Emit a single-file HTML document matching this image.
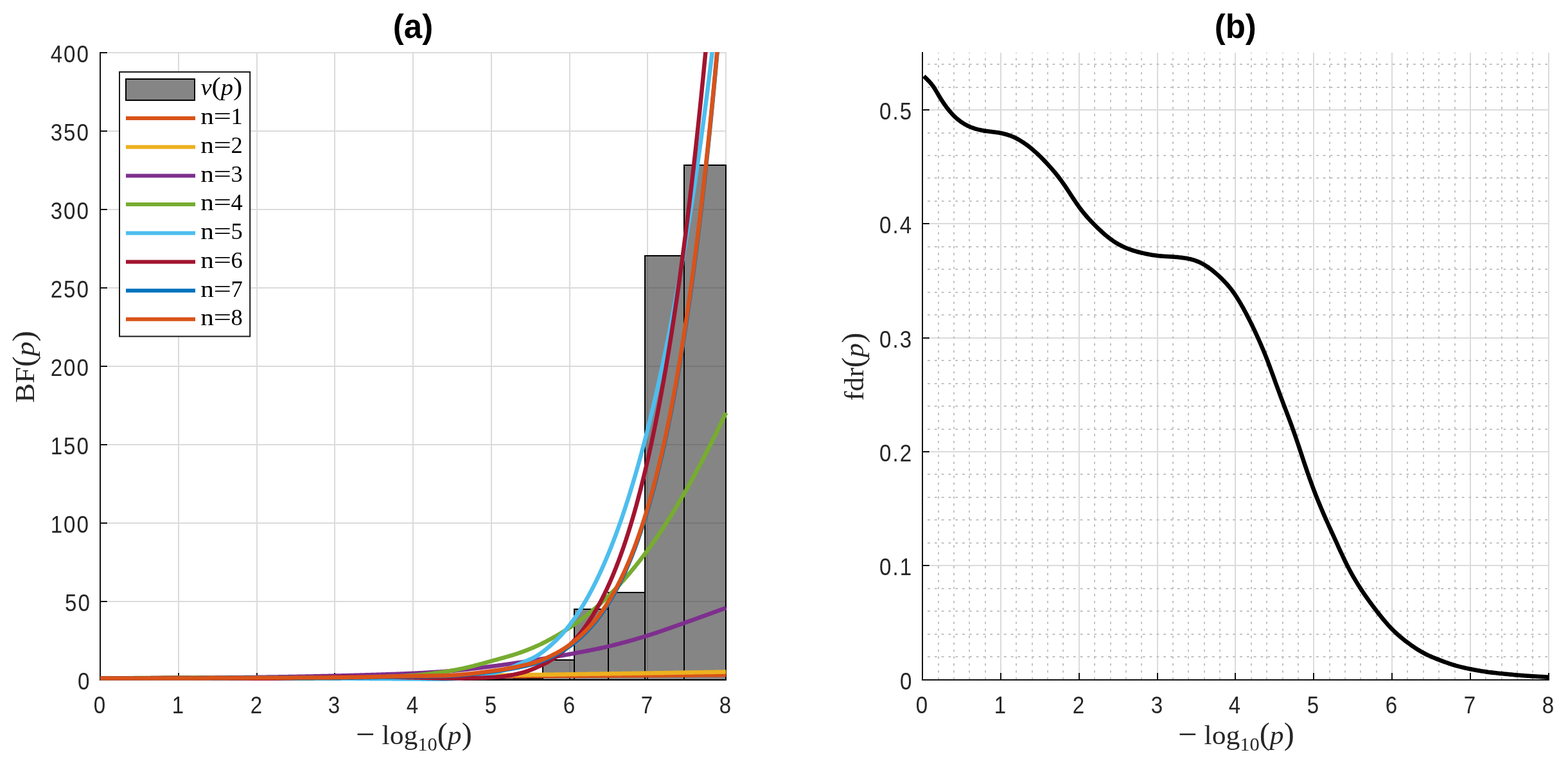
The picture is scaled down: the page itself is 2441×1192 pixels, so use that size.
<!DOCTYPE html>
<html lang="en">
<head>
<meta charset="utf-8">
<title>BF(p) and fdr(p) versus -log10(p)</title>
<style>
html,body{margin:0;padding:0;background:#fff;}
body{width:2441px;height:1192px;overflow:hidden;}
svg{display:block;}
text{white-space:pre;}
</style>
</head>
<body>
<svg width="2441" height="1192" viewBox="0 0 2441 1192">
<defs>
<clipPath id="lclip"><rect x="150" y="81" width="990" height="982"/></clipPath>
</defs>
<rect width="2441" height="1192" fill="#fff"/>
<g id="panel-a">
<path d="M278 82V1046M400 82V1046M521 82V1046M643 82V1046M765 82V1046M887 82V1046M1008 82V1046M1130 82V1046M168 936H1131M168 814H1131M168 692H1131M168 570H1131M168 448H1131M168 326H1131M168 204H1131M168 82H1131" stroke="#dbdbdb" stroke-width="2" fill="none"/>
<path d="M156 81V1059M155 1058H1131M278 1058v-11M400 1058v-11M521 1058v-11M643 1058v-11M765 1058v-11M887 1058v-11M1008 1058v-11M1130 1058v-11M156 936h11M156 814h11M156 692h11M156 570h11M156 448h11M156 326h11M156 204h11M156 82h11" stroke="#121212" stroke-width="2" fill="none"/>
<g fill="#333" fill-opacity="0.6" stroke="none">
<rect x="759" y="1056.6" width="41" height="1.4"/>
<rect x="800" y="1055.8" width="45" height="2.2"/>
<rect x="845" y="1027" width="49" height="31"/>
<rect x="894" y="948" width="53" height="110"/>
<rect x="947" y="922" width="57" height="136"/>
<rect x="1004" y="398" width="61" height="660"/>
<rect x="1065" y="257" width="65" height="801"/>
</g>
<g fill="none" stroke="#000" stroke-width="2">
<rect x="759" y="1056.6" width="41" height="1.4"/>
<rect x="800" y="1055.8" width="45" height="2.2"/>
<rect x="845" y="1027" width="49" height="31"/>
<rect x="894" y="948" width="53" height="110"/>
<rect x="947" y="922" width="57" height="136"/>
<rect x="1004" y="398" width="61" height="660"/>
<rect x="1065" y="257" width="65" height="801"/>
</g>
<g clip-path="url(#lclip)" fill="none" stroke-width="6.5" stroke-linejoin="round">
<path d="M156.2 1055.56L157.28 1055.56L158.37 1055.55L159.45 1055.55L160.53 1055.54L161.62 1055.54L162.7 1055.53L163.78 1055.53L164.87 1055.52L165.95 1055.52L167.03 1055.51L168.12 1055.51L169.2 1055.5L170.28 1055.5L171.37 1055.49L172.45 1055.49L173.53 1055.48L174.62 1055.48L175.7 1055.47L176.79 1055.47L177.87 1055.46L178.95 1055.46L180.04 1055.45L181.12 1055.45L182.2 1055.44L183.29 1055.44L184.37 1055.43L185.45 1055.43L186.54 1055.42L187.62 1055.42L188.7 1055.41L189.79 1055.41L190.87 1055.4L191.95 1055.39L193.04 1055.39L194.12 1055.38L195.2 1055.38L196.29 1055.37L197.37 1055.37L198.45 1055.36L199.54 1055.36L200.62 1055.35L201.7 1055.35L202.79 1055.34L203.87 1055.34L204.95 1055.33L206.04 1055.33L207.12 1055.32L208.2 1055.32L209.29 1055.31L210.37 1055.31L211.45 1055.3L212.54 1055.3L213.62 1055.29L214.71 1055.29L215.79 1055.28L216.87 1055.28L217.96 1055.27L219.04 1055.27L220.12 1055.26L221.21 1055.26L222.29 1055.25L223.37 1055.24L224.46 1055.24L225.54 1055.23L226.62 1055.23L227.71 1055.22L228.79 1055.22L229.87 1055.21L230.96 1055.21L232.04 1055.2L233.12 1055.2L234.21 1055.19L235.29 1055.19L236.37 1055.18L237.46 1055.18L238.54 1055.17L239.62 1055.17L240.71 1055.16L241.79 1055.15L242.87 1055.15L243.96 1055.14L245.04 1055.14L246.12 1055.13L247.21 1055.13L248.29 1055.12L249.37 1055.12L250.46 1055.11L251.54 1055.11L252.62 1055.1L253.71 1055.1L254.79 1055.09L255.88 1055.09L256.96 1055.08L258.04 1055.07L259.13 1055.07L260.21 1055.06L261.29 1055.06L262.38 1055.05L263.46 1055.05L264.54 1055.04L265.63 1055.04L266.71 1055.03L267.79 1055.03L268.88 1055.02L269.96 1055.01L271.04 1055.01L272.13 1055L273.21 1055L274.29 1054.99L275.38 1054.99L276.46 1054.98L277.54 1054.98L278.63 1054.97L279.71 1054.97L280.79 1054.96L281.88 1054.95L282.96 1054.95L284.04 1054.94L285.13 1054.94L286.21 1054.93L287.29 1054.93L288.38 1054.92L289.46 1054.92L290.54 1054.91L291.63 1054.9L292.71 1054.9L293.8 1054.89L294.88 1054.89L295.96 1054.88L297.05 1054.88L298.13 1054.87L299.21 1054.87L300.3 1054.86L301.38 1054.85L302.46 1054.85L303.55 1054.84L304.63 1054.84L305.71 1054.83L306.8 1054.83L307.88 1054.82L308.96 1054.82L310.05 1054.81L311.13 1054.8L312.21 1054.8L313.3 1054.79L314.38 1054.79L315.46 1054.78L316.55 1054.78L317.63 1054.77L318.71 1054.77L319.8 1054.76L320.88 1054.75L321.96 1054.75L323.05 1054.74L324.13 1054.74L325.21 1054.73L326.3 1054.73L327.38 1054.72L328.46 1054.72L329.55 1054.71L330.63 1054.7L331.72 1054.7L332.8 1054.69L333.88 1054.69L334.97 1054.68L336.05 1054.68L337.13 1054.67L338.22 1054.66L339.3 1054.66L340.38 1054.65L341.47 1054.65L342.55 1054.64L343.63 1054.64L344.72 1054.63L345.8 1054.62L346.88 1054.62L347.97 1054.61L349.05 1054.61L350.13 1054.6L351.22 1054.6L352.3 1054.59L353.38 1054.58L354.47 1054.58L355.55 1054.57L356.63 1054.57L357.72 1054.56L358.8 1054.56L359.88 1054.55L360.97 1054.54L362.05 1054.54L363.13 1054.53L364.22 1054.53L365.3 1054.52L366.38 1054.52L367.47 1054.51L368.55 1054.5L369.63 1054.5L370.72 1054.49L371.8 1054.49L372.89 1054.48L373.97 1054.48L375.05 1054.47L376.14 1054.46L377.22 1054.46L378.3 1054.45L379.39 1054.45L380.47 1054.44L381.55 1054.44L382.64 1054.43L383.72 1054.42L384.8 1054.42L385.89 1054.41L386.97 1054.41L388.05 1054.4L389.14 1054.4L390.22 1054.39L391.3 1054.38L392.39 1054.38L393.47 1054.37L394.55 1054.37L395.64 1054.36L396.72 1054.36L397.8 1054.35L398.89 1054.34L399.97 1054.34L401.05 1054.33L402.14 1054.33L403.22 1054.32L404.3 1054.32L405.39 1054.31L406.47 1054.3L407.55 1054.3L408.64 1054.29L409.72 1054.29L410.81 1054.28L411.89 1054.28L412.97 1054.27L414.06 1054.26L415.14 1054.26L416.22 1054.25L417.31 1054.25L418.39 1054.24L419.47 1054.23L420.56 1054.23L421.64 1054.22L422.72 1054.22L423.81 1054.21L424.89 1054.21L425.97 1054.2L427.06 1054.19L428.14 1054.19L429.22 1054.18L430.31 1054.18L431.39 1054.17L432.47 1054.16L433.56 1054.16L434.64 1054.15L435.72 1054.15L436.81 1054.14L437.89 1054.13L438.97 1054.13L440.06 1054.12L441.14 1054.12L442.22 1054.11L443.31 1054.1L444.39 1054.1L445.47 1054.09L446.56 1054.09L447.64 1054.08L448.73 1054.08L449.81 1054.07L450.89 1054.06L451.98 1054.06L453.06 1054.05L454.14 1054.05L455.23 1054.04L456.31 1054.03L457.39 1054.03L458.48 1054.02L459.56 1054.02L460.64 1054.01L461.73 1054L462.81 1054L463.89 1053.99L464.98 1053.99L466.06 1053.98L467.14 1053.97L468.23 1053.97L469.31 1053.96L470.39 1053.96L471.48 1053.95L472.56 1053.94L473.64 1053.94L474.73 1053.93L475.81 1053.93L476.89 1053.92L477.98 1053.91L479.06 1053.91L480.14 1053.9L481.23 1053.9L482.31 1053.89L483.39 1053.88L484.48 1053.88L485.56 1053.87L486.64 1053.87L487.73 1053.86L488.81 1053.85L489.9 1053.85L490.98 1053.84L492.06 1053.83L493.15 1053.83L494.23 1053.82L495.31 1053.82L496.4 1053.81L497.48 1053.8L498.56 1053.8L499.65 1053.79L500.73 1053.79L501.81 1053.78L502.9 1053.77L503.98 1053.77L505.06 1053.76L506.15 1053.76L507.23 1053.75L508.31 1053.74L509.4 1053.74L510.48 1053.73L511.56 1053.73L512.65 1053.72L513.73 1053.71L514.81 1053.71L515.9 1053.7L516.98 1053.7L518.06 1053.69L519.15 1053.68L520.23 1053.68L521.31 1053.67L522.4 1053.66L523.48 1053.66L524.56 1053.65L525.65 1053.65L526.73 1053.64L527.82 1053.63L528.9 1053.63L529.98 1053.62L531.07 1053.62L532.15 1053.61L533.23 1053.6L534.32 1053.6L535.4 1053.59L536.48 1053.59L537.57 1053.58L538.65 1053.57L539.73 1053.57L540.82 1053.56L541.9 1053.56L542.98 1053.55L544.07 1053.54L545.15 1053.54L546.23 1053.53L547.32 1053.52L548.4 1053.52L549.48 1053.51L550.57 1053.51L551.65 1053.5L552.73 1053.49L553.82 1053.49L554.9 1053.48L555.98 1053.48L557.07 1053.47L558.15 1053.46L559.23 1053.46L560.32 1053.45L561.4 1053.45L562.48 1053.44L563.57 1053.43L564.65 1053.43L565.74 1053.42L566.82 1053.42L567.9 1053.41L568.99 1053.4L570.07 1053.4L571.15 1053.39L572.24 1053.39L573.32 1053.38L574.4 1053.37L575.49 1053.37L576.57 1053.36L577.65 1053.36L578.74 1053.35L579.82 1053.34L580.9 1053.34L581.99 1053.33L583.07 1053.32L584.15 1053.32L585.24 1053.31L586.32 1053.31L587.4 1053.3L588.49 1053.29L589.57 1053.29L590.65 1053.28L591.74 1053.28L592.82 1053.27L593.9 1053.27L594.99 1053.26L596.07 1053.25L597.15 1053.25L598.24 1053.24L599.32 1053.24L600.4 1053.23L601.49 1053.22L602.57 1053.22L603.65 1053.21L604.74 1053.21L605.82 1053.2L606.91 1053.19L607.99 1053.19L609.07 1053.18L610.16 1053.18L611.24 1053.17L612.32 1053.16L613.41 1053.16L614.49 1053.15L615.57 1053.15L616.66 1053.14L617.74 1053.13L618.82 1053.13L619.91 1053.12L620.99 1053.12L622.07 1053.11L623.16 1053.11L624.24 1053.1L625.32 1053.09L626.41 1053.09L627.49 1053.08L628.57 1053.08L629.66 1053.07L630.74 1053.06L631.82 1053.06L632.91 1053.05L633.99 1053.05L635.07 1053.04L636.16 1053.04L637.24 1053.03L638.32 1053.02L639.41 1053.02L640.49 1053.01L641.57 1053.01L642.66 1053L643.74 1053L644.83 1052.99L645.91 1052.98L646.99 1052.98L648.08 1052.97L649.16 1052.97L650.24 1052.96L651.33 1052.96L652.41 1052.95L653.49 1052.94L654.58 1052.94L655.66 1052.93L656.74 1052.93L657.83 1052.92L658.91 1052.92L659.99 1052.91L661.08 1052.9L662.16 1052.9L663.24 1052.89L664.33 1052.89L665.41 1052.88L666.49 1052.88L667.58 1052.87L668.66 1052.87L669.74 1052.86L670.83 1052.85L671.91 1052.85L672.99 1052.84L674.08 1052.84L675.16 1052.83L676.24 1052.83L677.33 1052.82L678.41 1052.82L679.49 1052.81L680.58 1052.81L681.66 1052.8L682.75 1052.79L683.83 1052.79L684.91 1052.78L686 1052.78L687.08 1052.77L688.16 1052.77L689.25 1052.76L690.33 1052.76L691.41 1052.75L692.5 1052.75L693.58 1052.74L694.66 1052.74L695.75 1052.73L696.83 1052.72L697.91 1052.72L699 1052.71L700.08 1052.71L701.16 1052.7L702.25 1052.7L703.33 1052.69L704.41 1052.69L705.5 1052.68L706.58 1052.68L707.66 1052.67L708.75 1052.67L709.83 1052.66L710.91 1052.66L712 1052.65L713.08 1052.64L714.16 1052.64L715.25 1052.63L716.33 1052.63L717.41 1052.62L718.5 1052.62L719.58 1052.61L720.66 1052.61L721.75 1052.6L722.83 1052.6L723.92 1052.59L725 1052.59L726.08 1052.58L727.17 1052.58L728.25 1052.57L729.33 1052.57L730.42 1052.56L731.5 1052.56L732.58 1052.55L733.67 1052.55L734.75 1052.54L735.83 1052.53L736.92 1052.53L738 1052.52L739.08 1052.52L740.17 1052.51L741.25 1052.51L742.33 1052.5L743.42 1052.5L744.5 1052.49L745.58 1052.49L746.67 1052.48L747.75 1052.48L748.83 1052.47L749.92 1052.47L751 1052.46L752.08 1052.46L753.17 1052.45L754.25 1052.45L755.33 1052.44L756.42 1052.44L757.5 1052.43L758.58 1052.43L759.67 1052.42L760.75 1052.41L761.84 1052.41L762.92 1052.4L764 1052.4L765.09 1052.39L766.17 1052.39L767.25 1052.38L768.34 1052.38L769.42 1052.37L770.5 1052.37L771.59 1052.36L772.67 1052.36L773.75 1052.35L774.84 1052.35L775.92 1052.34L777 1052.34L778.09 1052.33L779.17 1052.33L780.25 1052.32L781.34 1052.31L782.42 1052.31L783.5 1052.3L784.59 1052.3L785.67 1052.29L786.75 1052.29L787.84 1052.28L788.92 1052.28L790 1052.27L791.09 1052.27L792.17 1052.26L793.25 1052.26L794.34 1052.25L795.42 1052.25L796.5 1052.24L797.59 1052.23L798.67 1052.23L799.76 1052.22L800.84 1052.22L801.92 1052.21L803.01 1052.21L804.09 1052.2L805.17 1052.2L806.26 1052.19L807.34 1052.19L808.42 1052.18L809.51 1052.18L810.59 1052.17L811.67 1052.16L812.76 1052.16L813.84 1052.15L814.92 1052.15L816.01 1052.14L817.09 1052.14L818.17 1052.13L819.26 1052.13L820.34 1052.12L821.42 1052.11L822.51 1052.11L823.59 1052.1L824.67 1052.1L825.76 1052.09L826.84 1052.09L827.92 1052.08L829.01 1052.08L830.09 1052.07L831.17 1052.06L832.26 1052.06L833.34 1052.05L834.42 1052.05L835.51 1052.04L836.59 1052.04L837.67 1052.03L838.76 1052.02L839.84 1052.02L840.93 1052.01L842.01 1052.01L843.09 1052L844.18 1052L845.26 1051.99L846.34 1051.98L847.43 1051.98L848.51 1051.97L849.59 1051.97L850.68 1051.96L851.76 1051.96L852.84 1051.95L853.93 1051.94L855.01 1051.94L856.09 1051.93L857.18 1051.93L858.26 1051.92L859.34 1051.91L860.43 1051.91L861.51 1051.9L862.59 1051.9L863.68 1051.89L864.76 1051.89L865.84 1051.88L866.93 1051.87L868.01 1051.87L869.09 1051.86L870.18 1051.86L871.26 1051.85L872.34 1051.84L873.43 1051.84L874.51 1051.83L875.59 1051.83L876.68 1051.82L877.76 1051.81L878.85 1051.81L879.93 1051.8L881.01 1051.8L882.1 1051.79L883.18 1051.79L884.26 1051.78L885.35 1051.77L886.43 1051.77L887.51 1051.76L888.6 1051.76L889.68 1051.75L890.76 1051.74L891.85 1051.74L892.93 1051.73L894.01 1051.73L895.1 1051.72L896.18 1051.71L897.26 1051.71L898.35 1051.7L899.43 1051.7L900.51 1051.69L901.6 1051.68L902.68 1051.68L903.76 1051.67L904.85 1051.67L905.93 1051.66L907.01 1051.65L908.1 1051.65L909.18 1051.64L910.26 1051.64L911.35 1051.63L912.43 1051.62L913.51 1051.62L914.6 1051.61L915.68 1051.6L916.77 1051.6L917.85 1051.59L918.93 1051.59L920.02 1051.58L921.1 1051.57L922.18 1051.57L923.27 1051.56L924.35 1051.56L925.43 1051.55L926.52 1051.54L927.6 1051.54L928.68 1051.53L929.77 1051.53L930.85 1051.52L931.93 1051.51L933.02 1051.51L934.1 1051.5L935.18 1051.49L936.27 1051.49L937.35 1051.48L938.43 1051.48L939.52 1051.47L940.6 1051.46L941.68 1051.46L942.77 1051.45L943.85 1051.45L944.93 1051.44L946.02 1051.43L947.1 1051.43L948.18 1051.42L949.27 1051.41L950.35 1051.41L951.43 1051.4L952.52 1051.4L953.6 1051.39L954.68 1051.38L955.77 1051.38L956.85 1051.37L957.94 1051.36L959.02 1051.36L960.1 1051.35L961.19 1051.35L962.27 1051.34L963.35 1051.33L964.44 1051.33L965.52 1051.32L966.6 1051.31L967.69 1051.31L968.77 1051.3L969.85 1051.3L970.94 1051.29L972.02 1051.28L973.1 1051.28L974.19 1051.27L975.27 1051.26L976.35 1051.26L977.44 1051.25L978.52 1051.25L979.6 1051.24L980.69 1051.23L981.77 1051.23L982.85 1051.22L983.94 1051.21L985.02 1051.21L986.1 1051.2L987.19 1051.19L988.27 1051.19L989.35 1051.18L990.44 1051.18L991.52 1051.17L992.6 1051.16L993.69 1051.16L994.77 1051.15L995.86 1051.14L996.94 1051.14L998.02 1051.13L999.11 1051.12L1000.19 1051.12L1001.27 1051.11L1002.36 1051.1L1003.44 1051.1L1004.52 1051.09L1005.61 1051.09L1006.69 1051.08L1007.77 1051.07L1008.86 1051.07L1009.94 1051.06L1011.02 1051.05L1012.11 1051.05L1013.19 1051.04L1014.27 1051.03L1015.36 1051.03L1016.44 1051.02L1017.52 1051.01L1018.61 1051.01L1019.69 1051L1020.77 1050.99L1021.86 1050.99L1022.94 1050.98L1024.02 1050.98L1025.11 1050.97L1026.19 1050.96L1027.27 1050.96L1028.36 1050.95L1029.44 1050.94L1030.52 1050.94L1031.61 1050.93L1032.69 1050.92L1033.78 1050.92L1034.86 1050.91L1035.94 1050.9L1037.03 1050.9L1038.11 1050.89L1039.19 1050.88L1040.28 1050.88L1041.36 1050.87L1042.44 1050.86L1043.53 1050.86L1044.61 1050.85L1045.69 1050.84L1046.78 1050.84L1047.86 1050.83L1048.94 1050.82L1050.03 1050.82L1051.11 1050.81L1052.19 1050.8L1053.28 1050.8L1054.36 1050.79L1055.44 1050.78L1056.53 1050.78L1057.61 1050.77L1058.69 1050.76L1059.78 1050.76L1060.86 1050.75L1061.94 1050.74L1063.03 1050.74L1064.11 1050.73L1065.19 1050.72L1066.28 1050.72L1067.36 1050.71L1068.44 1050.7L1069.53 1050.7L1070.61 1050.69L1071.69 1050.68L1072.78 1050.68L1073.86 1050.67L1074.95 1050.66L1076.03 1050.66L1077.11 1050.65L1078.2 1050.64L1079.28 1050.64L1080.36 1050.63L1081.45 1050.62L1082.53 1050.62L1083.61 1050.61L1084.7 1050.6L1085.78 1050.6L1086.86 1050.59L1087.95 1050.58L1089.03 1050.58L1090.11 1050.57L1091.2 1050.56L1092.28 1050.56L1093.36 1050.55L1094.45 1050.54L1095.53 1050.53L1096.61 1050.53L1097.7 1050.52L1098.78 1050.51L1099.86 1050.51L1100.95 1050.5L1102.03 1050.49L1103.11 1050.49L1104.2 1050.48L1105.28 1050.47L1106.36 1050.47L1107.45 1050.46L1108.53 1050.45L1109.61 1050.45L1110.7 1050.44L1111.78 1050.43L1112.87 1050.42L1113.95 1050.42L1115.03 1050.41L1116.12 1050.4L1117.2 1050.4L1118.28 1050.39L1119.37 1050.38L1120.45 1050.38L1121.53 1050.37L1122.62 1050.36L1123.7 1050.36L1124.78 1050.35L1125.87 1050.34L1126.95 1050.33L1128.03 1050.33L1129.12 1050.32L1130.2 1050.31" stroke="#D95319"/>
<path d="M156.2 1055.56L157.28 1055.56L158.37 1055.55L159.45 1055.55L160.53 1055.54L161.62 1055.54L162.7 1055.53L163.78 1055.53L164.87 1055.53L165.95 1055.52L167.03 1055.52L168.12 1055.51L169.2 1055.51L170.28 1055.5L171.37 1055.5L172.45 1055.49L173.53 1055.49L174.62 1055.49L175.7 1055.48L176.79 1055.48L177.87 1055.47L178.95 1055.47L180.04 1055.46L181.12 1055.46L182.2 1055.45L183.29 1055.45L184.37 1055.45L185.45 1055.44L186.54 1055.44L187.62 1055.43L188.7 1055.43L189.79 1055.42L190.87 1055.42L191.95 1055.41L193.04 1055.41L194.12 1055.4L195.2 1055.4L196.29 1055.4L197.37 1055.39L198.45 1055.39L199.54 1055.38L200.62 1055.38L201.7 1055.37L202.79 1055.37L203.87 1055.36L204.95 1055.36L206.04 1055.35L207.12 1055.35L208.2 1055.34L209.29 1055.34L210.37 1055.33L211.45 1055.33L212.54 1055.33L213.62 1055.32L214.71 1055.32L215.79 1055.31L216.87 1055.31L217.96 1055.3L219.04 1055.3L220.12 1055.29L221.21 1055.29L222.29 1055.28L223.37 1055.28L224.46 1055.27L225.54 1055.27L226.62 1055.26L227.71 1055.26L228.79 1055.25L229.87 1055.25L230.96 1055.24L232.04 1055.24L233.12 1055.23L234.21 1055.23L235.29 1055.22L236.37 1055.22L237.46 1055.21L238.54 1055.21L239.62 1055.2L240.71 1055.2L241.79 1055.19L242.87 1055.19L243.96 1055.18L245.04 1055.18L246.12 1055.17L247.21 1055.17L248.29 1055.16L249.37 1055.16L250.46 1055.15L251.54 1055.15L252.62 1055.14L253.71 1055.14L254.79 1055.13L255.88 1055.13L256.96 1055.12L258.04 1055.12L259.13 1055.11L260.21 1055.11L261.29 1055.1L262.38 1055.1L263.46 1055.09L264.54 1055.09L265.63 1055.08L266.71 1055.07L267.79 1055.07L268.88 1055.06L269.96 1055.06L271.04 1055.05L272.13 1055.05L273.21 1055.04L274.29 1055.04L275.38 1055.03L276.46 1055.03L277.54 1055.02L278.63 1055.02L279.71 1055.01L280.79 1055.01L281.88 1055L282.96 1054.99L284.04 1054.99L285.13 1054.98L286.21 1054.98L287.29 1054.97L288.38 1054.97L289.46 1054.96L290.54 1054.96L291.63 1054.95L292.71 1054.95L293.8 1054.94L294.88 1054.93L295.96 1054.93L297.05 1054.92L298.13 1054.92L299.21 1054.91L300.3 1054.91L301.38 1054.9L302.46 1054.9L303.55 1054.89L304.63 1054.88L305.71 1054.88L306.8 1054.87L307.88 1054.87L308.96 1054.86L310.05 1054.86L311.13 1054.85L312.21 1054.84L313.3 1054.84L314.38 1054.83L315.46 1054.83L316.55 1054.82L317.63 1054.82L318.71 1054.81L319.8 1054.8L320.88 1054.8L321.96 1054.79L323.05 1054.79L324.13 1054.78L325.21 1054.77L326.3 1054.77L327.38 1054.76L328.46 1054.76L329.55 1054.75L330.63 1054.74L331.72 1054.74L332.8 1054.73L333.88 1054.73L334.97 1054.72L336.05 1054.71L337.13 1054.71L338.22 1054.7L339.3 1054.7L340.38 1054.69L341.47 1054.68L342.55 1054.68L343.63 1054.67L344.72 1054.67L345.8 1054.66L346.88 1054.65L347.97 1054.65L349.05 1054.64L350.13 1054.64L351.22 1054.63L352.3 1054.62L353.38 1054.62L354.47 1054.61L355.55 1054.6L356.63 1054.6L357.72 1054.59L358.8 1054.59L359.88 1054.58L360.97 1054.57L362.05 1054.57L363.13 1054.56L364.22 1054.55L365.3 1054.55L366.38 1054.54L367.47 1054.54L368.55 1054.53L369.63 1054.52L370.72 1054.52L371.8 1054.51L372.89 1054.5L373.97 1054.5L375.05 1054.49L376.14 1054.48L377.22 1054.48L378.3 1054.47L379.39 1054.46L380.47 1054.46L381.55 1054.45L382.64 1054.45L383.72 1054.44L384.8 1054.43L385.89 1054.43L386.97 1054.42L388.05 1054.41L389.14 1054.41L390.22 1054.4L391.3 1054.39L392.39 1054.39L393.47 1054.38L394.55 1054.37L395.64 1054.37L396.72 1054.36L397.8 1054.35L398.89 1054.35L399.97 1054.34L401.05 1054.33L402.14 1054.32L403.22 1054.32L404.3 1054.31L405.39 1054.3L406.47 1054.3L407.55 1054.29L408.64 1054.28L409.72 1054.28L410.81 1054.27L411.89 1054.26L412.97 1054.26L414.06 1054.25L415.14 1054.24L416.22 1054.23L417.31 1054.23L418.39 1054.22L419.47 1054.21L420.56 1054.21L421.64 1054.2L422.72 1054.19L423.81 1054.19L424.89 1054.18L425.97 1054.17L427.06 1054.16L428.14 1054.16L429.22 1054.15L430.31 1054.14L431.39 1054.14L432.47 1054.13L433.56 1054.12L434.64 1054.11L435.72 1054.11L436.81 1054.1L437.89 1054.09L438.97 1054.08L440.06 1054.08L441.14 1054.07L442.22 1054.06L443.31 1054.06L444.39 1054.05L445.47 1054.04L446.56 1054.03L447.64 1054.03L448.73 1054.02L449.81 1054.01L450.89 1054L451.98 1054L453.06 1053.99L454.14 1053.98L455.23 1053.97L456.31 1053.97L457.39 1053.96L458.48 1053.95L459.56 1053.94L460.64 1053.94L461.73 1053.93L462.81 1053.92L463.89 1053.91L464.98 1053.9L466.06 1053.9L467.14 1053.89L468.23 1053.88L469.31 1053.87L470.39 1053.87L471.48 1053.86L472.56 1053.85L473.64 1053.84L474.73 1053.83L475.81 1053.83L476.89 1053.82L477.98 1053.81L479.06 1053.8L480.14 1053.8L481.23 1053.79L482.31 1053.78L483.39 1053.77L484.48 1053.76L485.56 1053.76L486.64 1053.75L487.73 1053.74L488.81 1053.73L489.9 1053.72L490.98 1053.72L492.06 1053.71L493.15 1053.7L494.23 1053.69L495.31 1053.68L496.4 1053.67L497.48 1053.67L498.56 1053.66L499.65 1053.65L500.73 1053.64L501.81 1053.63L502.9 1053.62L503.98 1053.62L505.06 1053.61L506.15 1053.6L507.23 1053.59L508.31 1053.58L509.4 1053.57L510.48 1053.57L511.56 1053.56L512.65 1053.55L513.73 1053.54L514.81 1053.53L515.9 1053.52L516.98 1053.52L518.06 1053.51L519.15 1053.5L520.23 1053.49L521.31 1053.48L522.4 1053.47L523.48 1053.46L524.56 1053.46L525.65 1053.45L526.73 1053.44L527.82 1053.43L528.9 1053.42L529.98 1053.41L531.07 1053.4L532.15 1053.39L533.23 1053.39L534.32 1053.38L535.4 1053.37L536.48 1053.36L537.57 1053.35L538.65 1053.34L539.73 1053.33L540.82 1053.32L541.9 1053.31L542.98 1053.31L544.07 1053.3L545.15 1053.29L546.23 1053.28L547.32 1053.27L548.4 1053.26L549.48 1053.25L550.57 1053.24L551.65 1053.23L552.73 1053.22L553.82 1053.22L554.9 1053.21L555.98 1053.2L557.07 1053.19L558.15 1053.18L559.23 1053.17L560.32 1053.16L561.4 1053.15L562.48 1053.14L563.57 1053.13L564.65 1053.12L565.74 1053.11L566.82 1053.1L567.9 1053.09L568.99 1053.08L570.07 1053.08L571.15 1053.07L572.24 1053.06L573.32 1053.05L574.4 1053.04L575.49 1053.03L576.57 1053.02L577.65 1053.01L578.74 1053L579.82 1052.99L580.9 1052.98L581.99 1052.97L583.07 1052.96L584.15 1052.95L585.24 1052.94L586.32 1052.93L587.4 1052.92L588.49 1052.91L589.57 1052.9L590.65 1052.89L591.74 1052.88L592.82 1052.87L593.9 1052.86L594.99 1052.85L596.07 1052.84L597.15 1052.83L598.24 1052.82L599.32 1052.81L600.4 1052.8L601.49 1052.79L602.57 1052.78L603.65 1052.77L604.74 1052.76L605.82 1052.75L606.91 1052.74L607.99 1052.73L609.07 1052.72L610.16 1052.71L611.24 1052.7L612.32 1052.69L613.41 1052.68L614.49 1052.67L615.57 1052.66L616.66 1052.65L617.74 1052.64L618.82 1052.63L619.91 1052.62L620.99 1052.61L622.07 1052.6L623.16 1052.59L624.24 1052.58L625.32 1052.57L626.41 1052.55L627.49 1052.54L628.57 1052.53L629.66 1052.52L630.74 1052.51L631.82 1052.5L632.91 1052.49L633.99 1052.48L635.07 1052.47L636.16 1052.46L637.24 1052.45L638.32 1052.44L639.41 1052.43L640.49 1052.42L641.57 1052.4L642.66 1052.39L643.74 1052.38L644.83 1052.37L645.91 1052.36L646.99 1052.35L648.08 1052.34L649.16 1052.33L650.24 1052.32L651.33 1052.3L652.41 1052.29L653.49 1052.28L654.58 1052.27L655.66 1052.26L656.74 1052.25L657.83 1052.24L658.91 1052.23L659.99 1052.21L661.08 1052.2L662.16 1052.19L663.24 1052.18L664.33 1052.17L665.41 1052.16L666.49 1052.14L667.58 1052.13L668.66 1052.12L669.74 1052.11L670.83 1052.1L671.91 1052.09L672.99 1052.07L674.08 1052.06L675.16 1052.05L676.24 1052.04L677.33 1052.03L678.41 1052.01L679.49 1052L680.58 1051.99L681.66 1051.98L682.75 1051.96L683.83 1051.95L684.91 1051.94L686 1051.93L687.08 1051.92L688.16 1051.9L689.25 1051.89L690.33 1051.88L691.41 1051.87L692.5 1051.85L693.58 1051.84L694.66 1051.83L695.75 1051.82L696.83 1051.8L697.91 1051.79L699 1051.78L700.08 1051.76L701.16 1051.75L702.25 1051.74L703.33 1051.73L704.41 1051.71L705.5 1051.7L706.58 1051.69L707.66 1051.67L708.75 1051.66L709.83 1051.65L710.91 1051.64L712 1051.62L713.08 1051.61L714.16 1051.6L715.25 1051.58L716.33 1051.57L717.41 1051.56L718.5 1051.54L719.58 1051.53L720.66 1051.52L721.75 1051.5L722.83 1051.49L723.92 1051.48L725 1051.46L726.08 1051.45L727.17 1051.44L728.25 1051.42L729.33 1051.41L730.42 1051.4L731.5 1051.38L732.58 1051.37L733.67 1051.36L734.75 1051.34L735.83 1051.33L736.92 1051.31L738 1051.3L739.08 1051.29L740.17 1051.27L741.25 1051.26L742.33 1051.25L743.42 1051.23L744.5 1051.22L745.58 1051.2L746.67 1051.19L747.75 1051.18L748.83 1051.16L749.92 1051.15L751 1051.13L752.08 1051.12L753.17 1051.11L754.25 1051.09L755.33 1051.08L756.42 1051.06L757.5 1051.05L758.58 1051.04L759.67 1051.02L760.75 1051.01L761.84 1050.99L762.92 1050.98L764 1050.96L765.09 1050.95L766.17 1050.94L767.25 1050.92L768.34 1050.91L769.42 1050.89L770.5 1050.88L771.59 1050.86L772.67 1050.85L773.75 1050.84L774.84 1050.82L775.92 1050.81L777 1050.79L778.09 1050.78L779.17 1050.76L780.25 1050.75L781.34 1050.73L782.42 1050.72L783.5 1050.7L784.59 1050.69L785.67 1050.68L786.75 1050.66L787.84 1050.65L788.92 1050.63L790 1050.62L791.09 1050.6L792.17 1050.59L793.25 1050.57L794.34 1050.56L795.42 1050.54L796.5 1050.53L797.59 1050.51L798.67 1050.5L799.76 1050.49L800.84 1050.47L801.92 1050.46L803.01 1050.44L804.09 1050.43L805.17 1050.41L806.26 1050.4L807.34 1050.38L808.42 1050.37L809.51 1050.35L810.59 1050.34L811.67 1050.32L812.76 1050.31L813.84 1050.29L814.92 1050.28L816.01 1050.26L817.09 1050.25L818.17 1050.23L819.26 1050.22L820.34 1050.21L821.42 1050.19L822.51 1050.18L823.59 1050.16L824.67 1050.15L825.76 1050.13L826.84 1050.12L827.92 1050.1L829.01 1050.09L830.09 1050.07L831.17 1050.06L832.26 1050.04L833.34 1050.03L834.42 1050.01L835.51 1050L836.59 1049.98L837.67 1049.97L838.76 1049.95L839.84 1049.94L840.93 1049.92L842.01 1049.91L843.09 1049.9L844.18 1049.88L845.26 1049.87L846.34 1049.85L847.43 1049.84L848.51 1049.82L849.59 1049.81L850.68 1049.79L851.76 1049.78L852.84 1049.76L853.93 1049.75L855.01 1049.73L856.09 1049.72L857.18 1049.7L858.26 1049.69L859.34 1049.67L860.43 1049.66L861.51 1049.64L862.59 1049.63L863.68 1049.61L864.76 1049.6L865.84 1049.58L866.93 1049.57L868.01 1049.55L869.09 1049.54L870.18 1049.52L871.26 1049.51L872.34 1049.49L873.43 1049.48L874.51 1049.46L875.59 1049.45L876.68 1049.43L877.76 1049.42L878.85 1049.4L879.93 1049.39L881.01 1049.37L882.1 1049.36L883.18 1049.34L884.26 1049.33L885.35 1049.31L886.43 1049.3L887.51 1049.28L888.6 1049.27L889.68 1049.25L890.76 1049.24L891.85 1049.22L892.93 1049.21L894.01 1049.19L895.1 1049.18L896.18 1049.16L897.26 1049.14L898.35 1049.13L899.43 1049.11L900.51 1049.1L901.6 1049.08L902.68 1049.07L903.76 1049.05L904.85 1049.04L905.93 1049.02L907.01 1049.01L908.1 1048.99L909.18 1048.98L910.26 1048.96L911.35 1048.95L912.43 1048.93L913.51 1048.91L914.6 1048.9L915.68 1048.88L916.77 1048.87L917.85 1048.85L918.93 1048.84L920.02 1048.82L921.1 1048.81L922.18 1048.79L923.27 1048.78L924.35 1048.76L925.43 1048.74L926.52 1048.73L927.6 1048.71L928.68 1048.7L929.77 1048.68L930.85 1048.67L931.93 1048.65L933.02 1048.63L934.1 1048.62L935.18 1048.6L936.27 1048.59L937.35 1048.57L938.43 1048.56L939.52 1048.54L940.6 1048.52L941.68 1048.51L942.77 1048.49L943.85 1048.48L944.93 1048.46L946.02 1048.45L947.1 1048.43L948.18 1048.41L949.27 1048.4L950.35 1048.38L951.43 1048.37L952.52 1048.35L953.6 1048.33L954.68 1048.32L955.77 1048.3L956.85 1048.29L957.94 1048.27L959.02 1048.25L960.1 1048.24L961.19 1048.22L962.27 1048.21L963.35 1048.19L964.44 1048.17L965.52 1048.16L966.6 1048.14L967.69 1048.13L968.77 1048.11L969.85 1048.09L970.94 1048.08L972.02 1048.06L973.1 1048.05L974.19 1048.03L975.27 1048.01L976.35 1048L977.44 1047.98L978.52 1047.96L979.6 1047.95L980.69 1047.93L981.77 1047.92L982.85 1047.9L983.94 1047.88L985.02 1047.87L986.1 1047.85L987.19 1047.83L988.27 1047.82L989.35 1047.8L990.44 1047.78L991.52 1047.77L992.6 1047.75L993.69 1047.73L994.77 1047.72L995.86 1047.7L996.94 1047.68L998.02 1047.67L999.11 1047.65L1000.19 1047.64L1001.27 1047.62L1002.36 1047.6L1003.44 1047.59L1004.52 1047.57L1005.61 1047.55L1006.69 1047.54L1007.77 1047.52L1008.86 1047.5L1009.94 1047.48L1011.02 1047.47L1012.11 1047.45L1013.19 1047.43L1014.27 1047.42L1015.36 1047.4L1016.44 1047.38L1017.52 1047.37L1018.61 1047.35L1019.69 1047.33L1020.77 1047.32L1021.86 1047.3L1022.94 1047.28L1024.02 1047.27L1025.11 1047.25L1026.19 1047.23L1027.27 1047.22L1028.36 1047.2L1029.44 1047.18L1030.52 1047.16L1031.61 1047.15L1032.69 1047.13L1033.78 1047.11L1034.86 1047.1L1035.94 1047.08L1037.03 1047.06L1038.11 1047.05L1039.19 1047.03L1040.28 1047.01L1041.36 1046.99L1042.44 1046.98L1043.53 1046.96L1044.61 1046.94L1045.69 1046.93L1046.78 1046.91L1047.86 1046.89L1048.94 1046.87L1050.03 1046.86L1051.11 1046.84L1052.19 1046.82L1053.28 1046.81L1054.36 1046.79L1055.44 1046.77L1056.53 1046.75L1057.61 1046.74L1058.69 1046.72L1059.78 1046.7L1060.86 1046.68L1061.94 1046.67L1063.03 1046.65L1064.11 1046.63L1065.19 1046.62L1066.28 1046.6L1067.36 1046.58L1068.44 1046.56L1069.53 1046.55L1070.61 1046.53L1071.69 1046.51L1072.78 1046.49L1073.86 1046.48L1074.95 1046.46L1076.03 1046.44L1077.11 1046.42L1078.2 1046.41L1079.28 1046.39L1080.36 1046.37L1081.45 1046.35L1082.53 1046.34L1083.61 1046.32L1084.7 1046.3L1085.78 1046.28L1086.86 1046.27L1087.95 1046.25L1089.03 1046.23L1090.11 1046.21L1091.2 1046.2L1092.28 1046.18L1093.36 1046.16L1094.45 1046.14L1095.53 1046.13L1096.61 1046.11L1097.7 1046.09L1098.78 1046.07L1099.86 1046.06L1100.95 1046.04L1102.03 1046.02L1103.11 1046L1104.2 1045.98L1105.28 1045.97L1106.36 1045.95L1107.45 1045.93L1108.53 1045.91L1109.61 1045.9L1110.7 1045.88L1111.78 1045.86L1112.87 1045.84L1113.95 1045.82L1115.03 1045.81L1116.12 1045.79L1117.2 1045.77L1118.28 1045.75L1119.37 1045.74L1120.45 1045.72L1121.53 1045.7L1122.62 1045.68L1123.7 1045.66L1124.78 1045.65L1125.87 1045.63L1126.95 1045.61L1128.03 1045.59L1129.12 1045.57L1130.2 1045.56" stroke="#EDB120"/>
<path d="M156.2 1055.56L157.28 1055.56L158.37 1055.56L159.45 1055.55L160.53 1055.55L161.62 1055.55L162.7 1055.55L163.78 1055.54L164.87 1055.54L165.95 1055.54L167.03 1055.54L168.12 1055.53L169.2 1055.53L170.28 1055.53L171.37 1055.53L172.45 1055.52L173.53 1055.52L174.62 1055.52L175.7 1055.51L176.79 1055.51L177.87 1055.51L178.95 1055.51L180.04 1055.5L181.12 1055.5L182.2 1055.5L183.29 1055.49L184.37 1055.49L185.45 1055.49L186.54 1055.48L187.62 1055.48L188.7 1055.48L189.79 1055.47L190.87 1055.47L191.95 1055.47L193.04 1055.46L194.12 1055.46L195.2 1055.45L196.29 1055.45L197.37 1055.45L198.45 1055.44L199.54 1055.44L200.62 1055.44L201.7 1055.43L202.79 1055.43L203.87 1055.42L204.95 1055.42L206.04 1055.42L207.12 1055.41L208.2 1055.41L209.29 1055.4L210.37 1055.4L211.45 1055.4L212.54 1055.39L213.62 1055.39L214.71 1055.38L215.79 1055.38L216.87 1055.37L217.96 1055.37L219.04 1055.37L220.12 1055.36L221.21 1055.36L222.29 1055.35L223.37 1055.35L224.46 1055.34L225.54 1055.34L226.62 1055.33L227.71 1055.33L228.79 1055.32L229.87 1055.32L230.96 1055.31L232.04 1055.31L233.12 1055.3L234.21 1055.3L235.29 1055.29L236.37 1055.29L237.46 1055.28L238.54 1055.28L239.62 1055.27L240.71 1055.27L241.79 1055.26L242.87 1055.26L243.96 1055.25L245.04 1055.25L246.12 1055.24L247.21 1055.24L248.29 1055.23L249.37 1055.23L250.46 1055.22L251.54 1055.22L252.62 1055.21L253.71 1055.2L254.79 1055.2L255.88 1055.19L256.96 1055.19L258.04 1055.18L259.13 1055.18L260.21 1055.17L261.29 1055.16L262.38 1055.16L263.46 1055.15L264.54 1055.15L265.63 1055.14L266.71 1055.14L267.79 1055.13L268.88 1055.12L269.96 1055.12L271.04 1055.11L272.13 1055.11L273.21 1055.1L274.29 1055.09L275.38 1055.09L276.46 1055.08L277.54 1055.07L278.63 1055.07L279.71 1055.06L280.79 1055.06L281.88 1055.05L282.96 1055.04L284.04 1055.04L285.13 1055.03L286.21 1055.02L287.29 1055.01L288.38 1055.01L289.46 1055L290.54 1054.99L291.63 1054.99L292.71 1054.98L293.8 1054.97L294.88 1054.96L295.96 1054.96L297.05 1054.95L298.13 1054.94L299.21 1054.93L300.3 1054.92L301.38 1054.91L302.46 1054.91L303.55 1054.9L304.63 1054.89L305.71 1054.88L306.8 1054.87L307.88 1054.86L308.96 1054.85L310.05 1054.85L311.13 1054.84L312.21 1054.83L313.3 1054.82L314.38 1054.81L315.46 1054.8L316.55 1054.79L317.63 1054.78L318.71 1054.77L319.8 1054.76L320.88 1054.75L321.96 1054.74L323.05 1054.73L324.13 1054.72L325.21 1054.71L326.3 1054.7L327.38 1054.69L328.46 1054.68L329.55 1054.67L330.63 1054.66L331.72 1054.65L332.8 1054.64L333.88 1054.63L334.97 1054.62L336.05 1054.61L337.13 1054.6L338.22 1054.58L339.3 1054.57L340.38 1054.56L341.47 1054.55L342.55 1054.54L343.63 1054.53L344.72 1054.52L345.8 1054.5L346.88 1054.49L347.97 1054.48L349.05 1054.47L350.13 1054.46L351.22 1054.45L352.3 1054.43L353.38 1054.42L354.47 1054.41L355.55 1054.4L356.63 1054.39L357.72 1054.37L358.8 1054.36L359.88 1054.35L360.97 1054.34L362.05 1054.32L363.13 1054.31L364.22 1054.3L365.3 1054.28L366.38 1054.27L367.47 1054.26L368.55 1054.25L369.63 1054.23L370.72 1054.22L371.8 1054.21L372.89 1054.19L373.97 1054.18L375.05 1054.17L376.14 1054.15L377.22 1054.14L378.3 1054.13L379.39 1054.11L380.47 1054.1L381.55 1054.09L382.64 1054.07L383.72 1054.06L384.8 1054.04L385.89 1054.03L386.97 1054.02L388.05 1054L389.14 1053.99L390.22 1053.98L391.3 1053.96L392.39 1053.95L393.47 1053.93L394.55 1053.92L395.64 1053.91L396.72 1053.89L397.8 1053.88L398.89 1053.86L399.97 1053.85L401.05 1053.83L402.14 1053.82L403.22 1053.81L404.3 1053.79L405.39 1053.78L406.47 1053.76L407.55 1053.75L408.64 1053.73L409.72 1053.72L410.81 1053.7L411.89 1053.69L412.97 1053.67L414.06 1053.66L415.14 1053.64L416.22 1053.62L417.31 1053.61L418.39 1053.59L419.47 1053.58L420.56 1053.56L421.64 1053.55L422.72 1053.53L423.81 1053.51L424.89 1053.5L425.97 1053.48L427.06 1053.46L428.14 1053.45L429.22 1053.43L430.31 1053.41L431.39 1053.4L432.47 1053.38L433.56 1053.36L434.64 1053.34L435.72 1053.33L436.81 1053.31L437.89 1053.29L438.97 1053.28L440.06 1053.26L441.14 1053.24L442.22 1053.22L443.31 1053.2L444.39 1053.19L445.47 1053.17L446.56 1053.15L447.64 1053.13L448.73 1053.11L449.81 1053.09L450.89 1053.07L451.98 1053.06L453.06 1053.04L454.14 1053.02L455.23 1053L456.31 1052.98L457.39 1052.96L458.48 1052.94L459.56 1052.92L460.64 1052.9L461.73 1052.88L462.81 1052.86L463.89 1052.84L464.98 1052.82L466.06 1052.8L467.14 1052.78L468.23 1052.76L469.31 1052.74L470.39 1052.72L471.48 1052.7L472.56 1052.68L473.64 1052.66L474.73 1052.64L475.81 1052.62L476.89 1052.59L477.98 1052.57L479.06 1052.55L480.14 1052.53L481.23 1052.51L482.31 1052.49L483.39 1052.46L484.48 1052.44L485.56 1052.42L486.64 1052.4L487.73 1052.38L488.81 1052.35L489.9 1052.33L490.98 1052.31L492.06 1052.28L493.15 1052.26L494.23 1052.24L495.31 1052.22L496.4 1052.19L497.48 1052.17L498.56 1052.15L499.65 1052.12L500.73 1052.1L501.81 1052.07L502.9 1052.05L503.98 1052.03L505.06 1052L506.15 1051.98L507.23 1051.95L508.31 1051.93L509.4 1051.9L510.48 1051.88L511.56 1051.86L512.65 1051.83L513.73 1051.8L514.81 1051.78L515.9 1051.75L516.98 1051.73L518.06 1051.7L519.15 1051.68L520.23 1051.65L521.31 1051.63L522.4 1051.6L523.48 1051.57L524.56 1051.55L525.65 1051.52L526.73 1051.49L527.82 1051.47L528.9 1051.44L529.98 1051.41L531.07 1051.39L532.15 1051.36L533.23 1051.33L534.32 1051.31L535.4 1051.28L536.48 1051.25L537.57 1051.22L538.65 1051.2L539.73 1051.17L540.82 1051.14L541.9 1051.11L542.98 1051.08L544.07 1051.05L545.15 1051.03L546.23 1051L547.32 1050.97L548.4 1050.94L549.48 1050.91L550.57 1050.88L551.65 1050.85L552.73 1050.82L553.82 1050.79L554.9 1050.76L555.98 1050.73L557.07 1050.71L558.15 1050.68L559.23 1050.65L560.32 1050.62L561.4 1050.58L562.48 1050.55L563.57 1050.52L564.65 1050.49L565.74 1050.46L566.82 1050.43L567.9 1050.4L568.99 1050.37L570.07 1050.34L571.15 1050.31L572.24 1050.28L573.32 1050.25L574.4 1050.21L575.49 1050.18L576.57 1050.15L577.65 1050.12L578.74 1050.09L579.82 1050.05L580.9 1050.02L581.99 1049.99L583.07 1049.96L584.15 1049.92L585.24 1049.89L586.32 1049.86L587.4 1049.82L588.49 1049.79L589.57 1049.76L590.65 1049.72L591.74 1049.69L592.82 1049.65L593.9 1049.62L594.99 1049.59L596.07 1049.55L597.15 1049.52L598.24 1049.48L599.32 1049.44L600.4 1049.41L601.49 1049.37L602.57 1049.34L603.65 1049.3L604.74 1049.26L605.82 1049.23L606.91 1049.19L607.99 1049.15L609.07 1049.11L610.16 1049.08L611.24 1049.04L612.32 1049L613.41 1048.96L614.49 1048.92L615.57 1048.88L616.66 1048.84L617.74 1048.8L618.82 1048.76L619.91 1048.72L620.99 1048.68L622.07 1048.64L623.16 1048.6L624.24 1048.55L625.32 1048.51L626.41 1048.47L627.49 1048.43L628.57 1048.38L629.66 1048.34L630.74 1048.29L631.82 1048.25L632.91 1048.2L633.99 1048.16L635.07 1048.11L636.16 1048.07L637.24 1048.02L638.32 1047.97L639.41 1047.92L640.49 1047.87L641.57 1047.83L642.66 1047.78L643.74 1047.73L644.83 1047.68L645.91 1047.63L646.99 1047.57L648.08 1047.52L649.16 1047.47L650.24 1047.42L651.33 1047.36L652.41 1047.31L653.49 1047.25L654.58 1047.2L655.66 1047.14L656.74 1047.09L657.83 1047.03L658.91 1046.97L659.99 1046.91L661.08 1046.85L662.16 1046.79L663.24 1046.73L664.33 1046.67L665.41 1046.61L666.49 1046.55L667.58 1046.48L668.66 1046.42L669.74 1046.36L670.83 1046.29L671.91 1046.22L672.99 1046.16L674.08 1046.09L675.16 1046.02L676.24 1045.95L677.33 1045.88L678.41 1045.81L679.49 1045.74L680.58 1045.67L681.66 1045.6L682.75 1045.52L683.83 1045.45L684.91 1045.38L686 1045.3L687.08 1045.22L688.16 1045.14L689.25 1045.06L690.33 1044.98L691.41 1044.9L692.5 1044.82L693.58 1044.74L694.66 1044.65L695.75 1044.56L696.83 1044.48L697.91 1044.39L699 1044.3L700.08 1044.21L701.16 1044.11L702.25 1044.02L703.33 1043.93L704.41 1043.83L705.5 1043.73L706.58 1043.64L707.66 1043.54L708.75 1043.44L709.83 1043.33L710.91 1043.23L712 1043.13L713.08 1043.02L714.16 1042.92L715.25 1042.81L716.33 1042.7L717.41 1042.59L718.5 1042.48L719.58 1042.37L720.66 1042.26L721.75 1042.15L722.83 1042.03L723.92 1041.92L725 1041.8L726.08 1041.68L727.17 1041.57L728.25 1041.45L729.33 1041.33L730.42 1041.21L731.5 1041.09L732.58 1040.96L733.67 1040.84L734.75 1040.72L735.83 1040.59L736.92 1040.46L738 1040.34L739.08 1040.21L740.17 1040.08L741.25 1039.95L742.33 1039.82L743.42 1039.69L744.5 1039.56L745.58 1039.43L746.67 1039.3L747.75 1039.17L748.83 1039.03L749.92 1038.9L751 1038.77L752.08 1038.63L753.17 1038.5L754.25 1038.36L755.33 1038.23L756.42 1038.09L757.5 1037.96L758.58 1037.82L759.67 1037.68L760.75 1037.55L761.84 1037.41L762.92 1037.27L764 1037.14L765.09 1037L766.17 1036.86L767.25 1036.72L768.34 1036.58L769.42 1036.44L770.5 1036.3L771.59 1036.16L772.67 1036.02L773.75 1035.88L774.84 1035.73L775.92 1035.59L777 1035.44L778.09 1035.3L779.17 1035.15L780.25 1035L781.34 1034.85L782.42 1034.7L783.5 1034.55L784.59 1034.4L785.67 1034.25L786.75 1034.1L787.84 1033.95L788.92 1033.79L790 1033.64L791.09 1033.48L792.17 1033.33L793.25 1033.17L794.34 1033.02L795.42 1032.86L796.5 1032.7L797.59 1032.54L798.67 1032.38L799.76 1032.22L800.84 1032.06L801.92 1031.9L803.01 1031.74L804.09 1031.58L805.17 1031.41L806.26 1031.25L807.34 1031.09L808.42 1030.92L809.51 1030.76L810.59 1030.59L811.67 1030.43L812.76 1030.26L813.84 1030.09L814.92 1029.93L816.01 1029.76L817.09 1029.59L818.17 1029.43L819.26 1029.26L820.34 1029.09L821.42 1028.92L822.51 1028.75L823.59 1028.58L824.67 1028.41L825.76 1028.24L826.84 1028.07L827.92 1027.9L829.01 1027.73L830.09 1027.56L831.17 1027.39L832.26 1027.22L833.34 1027.05L834.42 1026.87L835.51 1026.7L836.59 1026.53L837.67 1026.35L838.76 1026.18L839.84 1026.01L840.93 1025.83L842.01 1025.66L843.09 1025.48L844.18 1025.31L845.26 1025.13L846.34 1024.95L847.43 1024.78L848.51 1024.6L849.59 1024.42L850.68 1024.24L851.76 1024.06L852.84 1023.88L853.93 1023.7L855.01 1023.52L856.09 1023.34L857.18 1023.16L858.26 1022.98L859.34 1022.8L860.43 1022.61L861.51 1022.43L862.59 1022.25L863.68 1022.06L864.76 1021.88L865.84 1021.69L866.93 1021.5L868.01 1021.32L869.09 1021.13L870.18 1020.94L871.26 1020.75L872.34 1020.56L873.43 1020.37L874.51 1020.18L875.59 1019.99L876.68 1019.8L877.76 1019.6L878.85 1019.41L879.93 1019.22L881.01 1019.02L882.1 1018.83L883.18 1018.63L884.26 1018.43L885.35 1018.23L886.43 1018.03L887.51 1017.83L888.6 1017.63L889.68 1017.43L890.76 1017.23L891.85 1017.03L892.93 1016.83L894.01 1016.63L895.1 1016.43L896.18 1016.23L897.26 1016.03L898.35 1015.82L899.43 1015.62L900.51 1015.42L901.6 1015.22L902.68 1015.01L903.76 1014.81L904.85 1014.6L905.93 1014.4L907.01 1014.19L908.1 1013.98L909.18 1013.78L910.26 1013.57L911.35 1013.36L912.43 1013.15L913.51 1012.94L914.6 1012.73L915.68 1012.52L916.77 1012.31L917.85 1012.09L918.93 1011.88L920.02 1011.66L921.1 1011.45L922.18 1011.23L923.27 1011.01L924.35 1010.79L925.43 1010.57L926.52 1010.35L927.6 1010.13L928.68 1009.9L929.77 1009.68L930.85 1009.45L931.93 1009.22L933.02 1008.99L934.1 1008.76L935.18 1008.53L936.27 1008.29L937.35 1008.06L938.43 1007.82L939.52 1007.58L940.6 1007.34L941.68 1007.1L942.77 1006.85L943.85 1006.61L944.93 1006.36L946.02 1006.11L947.1 1005.85L948.18 1005.6L949.27 1005.34L950.35 1005.09L951.43 1004.83L952.52 1004.56L953.6 1004.3L954.68 1004.04L955.77 1003.77L956.85 1003.5L957.94 1003.23L959.02 1002.96L960.1 1002.68L961.19 1002.41L962.27 1002.13L963.35 1001.85L964.44 1001.57L965.52 1001.29L966.6 1001.01L967.69 1000.72L968.77 1000.43L969.85 1000.15L970.94 999.86L972.02 999.56L973.1 999.27L974.19 998.98L975.27 998.68L976.35 998.38L977.44 998.08L978.52 997.78L979.6 997.48L980.69 997.18L981.77 996.87L982.85 996.56L983.94 996.26L985.02 995.95L986.1 995.64L987.19 995.33L988.27 995.01L989.35 994.7L990.44 994.38L991.52 994.07L992.6 993.75L993.69 993.43L994.77 993.11L995.86 992.79L996.94 992.47L998.02 992.14L999.11 991.82L1000.19 991.49L1001.27 991.17L1002.36 990.84L1003.44 990.51L1004.52 990.18L1005.61 989.85L1006.69 989.52L1007.77 989.18L1008.86 988.84L1009.94 988.5L1011.02 988.16L1012.11 987.81L1013.19 987.47L1014.27 987.12L1015.36 986.77L1016.44 986.41L1017.52 986.06L1018.61 985.7L1019.69 985.35L1020.77 984.99L1021.86 984.63L1022.94 984.26L1024.02 983.9L1025.11 983.53L1026.19 983.16L1027.27 982.79L1028.36 982.42L1029.44 982.05L1030.52 981.68L1031.61 981.31L1032.69 980.93L1033.78 980.55L1034.86 980.18L1035.94 979.8L1037.03 979.42L1038.11 979.04L1039.19 978.66L1040.28 978.27L1041.36 977.89L1042.44 977.51L1043.53 977.12L1044.61 976.74L1045.69 976.36L1046.78 975.97L1047.86 975.59L1048.94 975.2L1050.03 974.81L1051.11 974.43L1052.19 974.04L1053.28 973.66L1054.36 973.27L1055.44 972.89L1056.53 972.5L1057.61 972.12L1058.69 971.73L1059.78 971.35L1060.86 970.97L1061.94 970.58L1063.03 970.2L1064.11 969.82L1065.19 969.44L1066.28 969.06L1067.36 968.68L1068.44 968.3L1069.53 967.91L1070.61 967.53L1071.69 967.15L1072.78 966.76L1073.86 966.38L1074.95 965.99L1076.03 965.6L1077.11 965.22L1078.2 964.83L1079.28 964.44L1080.36 964.05L1081.45 963.67L1082.53 963.28L1083.61 962.89L1084.7 962.5L1085.78 962.11L1086.86 961.72L1087.95 961.32L1089.03 960.93L1090.11 960.54L1091.2 960.15L1092.28 959.76L1093.36 959.36L1094.45 958.97L1095.53 958.58L1096.61 958.19L1097.7 957.79L1098.78 957.4L1099.86 957L1100.95 956.61L1102.03 956.22L1103.11 955.82L1104.2 955.43L1105.28 955.03L1106.36 954.64L1107.45 954.25L1108.53 953.85L1109.61 953.46L1110.7 953.06L1111.78 952.67L1112.87 952.28L1113.95 951.88L1115.03 951.49L1116.12 951.1L1117.2 950.7L1118.28 950.31L1119.37 949.92L1120.45 949.52L1121.53 949.13L1122.62 948.74L1123.7 948.35L1124.78 947.96L1125.87 947.56L1126.95 947.17L1128.03 946.78L1129.12 946.39L1130.2 946" stroke="#7E2F8E"/>
<path d="M156.2 1055.56L157.28 1055.55L158.37 1055.54L159.45 1055.53L160.53 1055.52L161.62 1055.51L162.7 1055.5L163.78 1055.49L164.87 1055.48L165.95 1055.48L167.03 1055.47L168.12 1055.46L169.2 1055.45L170.28 1055.44L171.37 1055.43L172.45 1055.42L173.53 1055.41L174.62 1055.4L175.7 1055.39L176.79 1055.38L177.87 1055.37L178.95 1055.36L180.04 1055.35L181.12 1055.34L182.2 1055.34L183.29 1055.33L184.37 1055.32L185.45 1055.31L186.54 1055.3L187.62 1055.29L188.7 1055.28L189.79 1055.27L190.87 1055.26L191.95 1055.25L193.04 1055.25L194.12 1055.24L195.2 1055.23L196.29 1055.22L197.37 1055.21L198.45 1055.2L199.54 1055.19L200.62 1055.18L201.7 1055.18L202.79 1055.17L203.87 1055.16L204.95 1055.15L206.04 1055.14L207.12 1055.13L208.2 1055.13L209.29 1055.12L210.37 1055.11L211.45 1055.1L212.54 1055.09L213.62 1055.09L214.71 1055.08L215.79 1055.07L216.87 1055.06L217.96 1055.06L219.04 1055.05L220.12 1055.04L221.21 1055.04L222.29 1055.03L223.37 1055.02L224.46 1055.01L225.54 1055.01L226.62 1055L227.71 1054.99L228.79 1054.99L229.87 1054.98L230.96 1054.97L232.04 1054.97L233.12 1054.96L234.21 1054.96L235.29 1054.95L236.37 1054.95L237.46 1054.94L238.54 1054.93L239.62 1054.93L240.71 1054.92L241.79 1054.92L242.87 1054.91L243.96 1054.91L245.04 1054.9L246.12 1054.9L247.21 1054.89L248.29 1054.89L249.37 1054.89L250.46 1054.88L251.54 1054.88L252.62 1054.87L253.71 1054.87L254.79 1054.87L255.88 1054.86L256.96 1054.86L258.04 1054.86L259.13 1054.85L260.21 1054.85L261.29 1054.85L262.38 1054.85L263.46 1054.84L264.54 1054.84L265.63 1054.84L266.71 1054.84L267.79 1054.84L268.88 1054.83L269.96 1054.83L271.04 1054.83L272.13 1054.83L273.21 1054.83L274.29 1054.83L275.38 1054.83L276.46 1054.83L277.54 1054.83L278.63 1054.83L279.71 1054.83L280.79 1054.83L281.88 1054.83L282.96 1054.83L284.04 1054.83L285.13 1054.83L286.21 1054.83L287.29 1054.83L288.38 1054.83L289.46 1054.83L290.54 1054.84L291.63 1054.84L292.71 1054.84L293.8 1054.84L294.88 1054.84L295.96 1054.84L297.05 1054.84L298.13 1054.85L299.21 1054.85L300.3 1054.85L301.38 1054.85L302.46 1054.85L303.55 1054.86L304.63 1054.86L305.71 1054.86L306.8 1054.86L307.88 1054.87L308.96 1054.87L310.05 1054.87L311.13 1054.87L312.21 1054.88L313.3 1054.88L314.38 1054.88L315.46 1054.88L316.55 1054.89L317.63 1054.89L318.71 1054.89L319.8 1054.9L320.88 1054.9L321.96 1054.9L323.05 1054.91L324.13 1054.91L325.21 1054.91L326.3 1054.92L327.38 1054.92L328.46 1054.92L329.55 1054.92L330.63 1054.93L331.72 1054.93L332.8 1054.93L333.88 1054.94L334.97 1054.94L336.05 1054.94L337.13 1054.95L338.22 1054.95L339.3 1054.95L340.38 1054.96L341.47 1054.96L342.55 1054.96L343.63 1054.97L344.72 1054.97L345.8 1054.97L346.88 1054.98L347.97 1054.98L349.05 1054.98L350.13 1054.99L351.22 1054.99L352.3 1054.99L353.38 1055L354.47 1055L355.55 1055L356.63 1055L357.72 1055.01L358.8 1055.01L359.88 1055.01L360.97 1055.02L362.05 1055.02L363.13 1055.02L364.22 1055.02L365.3 1055.03L366.38 1055.03L367.47 1055.03L368.55 1055.03L369.63 1055.04L370.72 1055.04L371.8 1055.04L372.89 1055.04L373.97 1055.04L375.05 1055.05L376.14 1055.05L377.22 1055.05L378.3 1055.05L379.39 1055.05L380.47 1055.06L381.55 1055.06L382.64 1055.06L383.72 1055.06L384.8 1055.06L385.89 1055.06L386.97 1055.06L388.05 1055.07L389.14 1055.07L390.22 1055.07L391.3 1055.07L392.39 1055.07L393.47 1055.07L394.55 1055.07L395.64 1055.07L396.72 1055.07L397.8 1055.07L398.89 1055.07L399.97 1055.07L401.05 1055.07L402.14 1055.07L403.22 1055.07L404.3 1055.07L405.39 1055.07L406.47 1055.07L407.55 1055.07L408.64 1055.07L409.72 1055.07L410.81 1055.07L411.89 1055.07L412.97 1055.07L414.06 1055.07L415.14 1055.07L416.22 1055.07L417.31 1055.07L418.39 1055.07L419.47 1055.07L420.56 1055.06L421.64 1055.06L422.72 1055.06L423.81 1055.06L424.89 1055.06L425.97 1055.06L427.06 1055.06L428.14 1055.06L429.22 1055.06L430.31 1055.06L431.39 1055.05L432.47 1055.05L433.56 1055.05L434.64 1055.05L435.72 1055.05L436.81 1055.05L437.89 1055.05L438.97 1055.05L440.06 1055.04L441.14 1055.04L442.22 1055.04L443.31 1055.04L444.39 1055.04L445.47 1055.04L446.56 1055.03L447.64 1055.03L448.73 1055.03L449.81 1055.03L450.89 1055.03L451.98 1055.03L453.06 1055.02L454.14 1055.02L455.23 1055.02L456.31 1055.02L457.39 1055.02L458.48 1055.01L459.56 1055.01L460.64 1055.01L461.73 1055.01L462.81 1055.01L463.89 1055L464.98 1055L466.06 1055L467.14 1055L468.23 1054.99L469.31 1054.99L470.39 1054.99L471.48 1054.99L472.56 1054.98L473.64 1054.98L474.73 1054.98L475.81 1054.98L476.89 1054.97L477.98 1054.97L479.06 1054.97L480.14 1054.96L481.23 1054.96L482.31 1054.96L483.39 1054.96L484.48 1054.95L485.56 1054.95L486.64 1054.95L487.73 1054.94L488.81 1054.94L489.9 1054.94L490.98 1054.93L492.06 1054.93L493.15 1054.93L494.23 1054.92L495.31 1054.92L496.4 1054.92L497.48 1054.91L498.56 1054.91L499.65 1054.91L500.73 1054.9L501.81 1054.9L502.9 1054.9L503.98 1054.89L505.06 1054.89L506.15 1054.88L507.23 1054.88L508.31 1054.88L509.4 1054.87L510.48 1054.87L511.56 1054.87L512.65 1054.86L513.73 1054.86L514.81 1054.85L515.9 1054.85L516.98 1054.85L518.06 1054.84L519.15 1054.84L520.23 1054.83L521.31 1054.83L522.4 1054.82L523.48 1054.82L524.56 1054.81L525.65 1054.81L526.73 1054.8L527.82 1054.79L528.9 1054.78L529.98 1054.77L531.07 1054.76L532.15 1054.75L533.23 1054.74L534.32 1054.73L535.4 1054.72L536.48 1054.71L537.57 1054.69L538.65 1054.68L539.73 1054.67L540.82 1054.65L541.9 1054.64L542.98 1054.62L544.07 1054.6L545.15 1054.59L546.23 1054.57L547.32 1054.55L548.4 1054.53L549.48 1054.51L550.57 1054.5L551.65 1054.48L552.73 1054.45L553.82 1054.43L554.9 1054.41L555.98 1054.39L557.07 1054.37L558.15 1054.34L559.23 1054.32L560.32 1054.3L561.4 1054.27L562.48 1054.25L563.57 1054.22L564.65 1054.2L565.74 1054.17L566.82 1054.15L567.9 1054.12L568.99 1054.09L570.07 1054.06L571.15 1054.04L572.24 1054.01L573.32 1053.98L574.4 1053.95L575.49 1053.92L576.57 1053.89L577.65 1053.86L578.74 1053.83L579.82 1053.8L580.9 1053.77L581.99 1053.74L583.07 1053.71L584.15 1053.68L585.24 1053.64L586.32 1053.61L587.4 1053.58L588.49 1053.55L589.57 1053.51L590.65 1053.48L591.74 1053.45L592.82 1053.42L593.9 1053.38L594.99 1053.35L596.07 1053.31L597.15 1053.28L598.24 1053.24L599.32 1053.21L600.4 1053.17L601.49 1053.13L602.57 1053.09L603.65 1053.05L604.74 1053.01L605.82 1052.97L606.91 1052.93L607.99 1052.88L609.07 1052.84L610.16 1052.79L611.24 1052.75L612.32 1052.7L613.41 1052.65L614.49 1052.6L615.57 1052.55L616.66 1052.5L617.74 1052.45L618.82 1052.39L619.91 1052.34L620.99 1052.28L622.07 1052.23L623.16 1052.17L624.24 1052.11L625.32 1052.05L626.41 1051.99L627.49 1051.93L628.57 1051.87L629.66 1051.8L630.74 1051.74L631.82 1051.67L632.91 1051.61L633.99 1051.54L635.07 1051.47L636.16 1051.4L637.24 1051.33L638.32 1051.26L639.41 1051.19L640.49 1051.11L641.57 1051.04L642.66 1050.96L643.74 1050.89L644.83 1050.81L645.91 1050.72L646.99 1050.64L648.08 1050.55L649.16 1050.47L650.24 1050.38L651.33 1050.28L652.41 1050.19L653.49 1050.09L654.58 1049.99L655.66 1049.89L656.74 1049.78L657.83 1049.68L658.91 1049.57L659.99 1049.46L661.08 1049.35L662.16 1049.23L663.24 1049.12L664.33 1049L665.41 1048.88L666.49 1048.75L667.58 1048.63L668.66 1048.5L669.74 1048.37L670.83 1048.24L671.91 1048.11L672.99 1047.98L674.08 1047.84L675.16 1047.7L676.24 1047.57L677.33 1047.43L678.41 1047.28L679.49 1047.14L680.58 1047L681.66 1046.85L682.75 1046.71L683.83 1046.56L684.91 1046.41L686 1046.26L687.08 1046.11L688.16 1045.96L689.25 1045.8L690.33 1045.65L691.41 1045.49L692.5 1045.32L693.58 1045.16L694.66 1044.99L695.75 1044.82L696.83 1044.64L697.91 1044.47L699 1044.29L700.08 1044.11L701.16 1043.92L702.25 1043.73L703.33 1043.54L704.41 1043.35L705.5 1043.16L706.58 1042.96L707.66 1042.76L708.75 1042.55L709.83 1042.35L710.91 1042.14L712 1041.92L713.08 1041.71L714.16 1041.49L715.25 1041.27L716.33 1041.05L717.41 1040.82L718.5 1040.59L719.58 1040.36L720.66 1040.13L721.75 1039.89L722.83 1039.65L723.92 1039.41L725 1039.16L726.08 1038.91L727.17 1038.66L728.25 1038.41L729.33 1038.16L730.42 1037.9L731.5 1037.64L732.58 1037.37L733.67 1037.11L734.75 1036.84L735.83 1036.57L736.92 1036.3L738 1036.03L739.08 1035.75L740.17 1035.47L741.25 1035.19L742.33 1034.91L743.42 1034.62L744.5 1034.34L745.58 1034.05L746.67 1033.76L747.75 1033.47L748.83 1033.18L749.92 1032.88L751 1032.59L752.08 1032.29L753.17 1031.99L754.25 1031.7L755.33 1031.4L756.42 1031.1L757.5 1030.8L758.58 1030.49L759.67 1030.19L760.75 1029.89L761.84 1029.59L762.92 1029.29L764 1028.98L765.09 1028.68L766.17 1028.38L767.25 1028.08L768.34 1027.78L769.42 1027.48L770.5 1027.18L771.59 1026.88L772.67 1026.58L773.75 1026.28L774.84 1025.99L775.92 1025.69L777 1025.39L778.09 1025.09L779.17 1024.79L780.25 1024.49L781.34 1024.19L782.42 1023.89L783.5 1023.59L784.59 1023.28L785.67 1022.98L786.75 1022.68L787.84 1022.37L788.92 1022.06L790 1021.75L791.09 1021.44L792.17 1021.13L793.25 1020.81L794.34 1020.49L795.42 1020.17L796.5 1019.85L797.59 1019.52L798.67 1019.19L799.76 1018.86L800.84 1018.52L801.92 1018.18L803.01 1017.83L804.09 1017.48L805.17 1017.13L806.26 1016.77L807.34 1016.41L808.42 1016.04L809.51 1015.66L810.59 1015.28L811.67 1014.89L812.76 1014.5L813.84 1014.1L814.92 1013.7L816.01 1013.3L817.09 1012.89L818.17 1012.47L819.26 1012.05L820.34 1011.63L821.42 1011.21L822.51 1010.78L823.59 1010.34L824.67 1009.91L825.76 1009.47L826.84 1009.02L827.92 1008.58L829.01 1008.13L830.09 1007.67L831.17 1007.21L832.26 1006.75L833.34 1006.28L834.42 1005.81L835.51 1005.33L836.59 1004.84L837.67 1004.36L838.76 1003.86L839.84 1003.36L840.93 1002.85L842.01 1002.33L843.09 1001.81L844.18 1001.28L845.26 1000.74L846.34 1000.19L847.43 999.64L848.51 999.09L849.59 998.52L850.68 997.95L851.76 997.38L852.84 996.8L853.93 996.21L855.01 995.62L856.09 995.03L857.18 994.44L858.26 993.84L859.34 993.24L860.43 992.64L861.51 992.04L862.59 991.43L863.68 990.82L864.76 990.21L865.84 989.59L866.93 988.97L868.01 988.34L869.09 987.71L870.18 987.07L871.26 986.43L872.34 985.78L873.43 985.13L874.51 984.47L875.59 983.81L876.68 983.14L877.76 982.47L878.85 981.79L879.93 981.11L881.01 980.42L882.1 979.73L883.18 979.03L884.26 978.33L885.35 977.62L886.43 976.9L887.51 976.18L888.6 975.46L889.68 974.73L890.76 973.99L891.85 973.25L892.93 972.5L894.01 971.75L895.1 970.99L896.18 970.23L897.26 969.46L898.35 968.68L899.43 967.9L900.51 967.12L901.6 966.33L902.68 965.53L903.76 964.72L904.85 963.91L905.93 963.1L907.01 962.28L908.1 961.45L909.18 960.62L910.26 959.78L911.35 958.93L912.43 958.08L913.51 957.23L914.6 956.36L915.68 955.5L916.77 954.62L917.85 953.74L918.93 952.85L920.02 951.96L921.1 951.06L922.18 950.15L923.27 949.24L924.35 948.32L925.43 947.4L926.52 946.47L927.6 945.53L928.68 944.58L929.77 943.63L930.85 942.68L931.93 941.71L933.02 940.74L934.1 939.77L935.18 938.78L936.27 937.79L937.35 936.8L938.43 935.8L939.52 934.79L940.6 933.77L941.68 932.75L942.77 931.72L943.85 930.68L944.93 929.64L946.02 928.59L947.1 927.53L948.18 926.47L949.27 925.4L950.35 924.32L951.43 923.24L952.52 922.14L953.6 921.05L954.68 919.94L955.77 918.83L956.85 917.71L957.94 916.58L959.02 915.45L960.1 914.31L961.19 913.16L962.27 912.01L963.35 910.85L964.44 909.68L965.52 908.5L966.6 907.32L967.69 906.13L968.77 904.93L969.85 903.73L970.94 902.51L972.02 901.29L973.1 900.07L974.19 898.83L975.27 897.59L976.35 896.34L977.44 895.08L978.52 893.82L979.6 892.55L980.69 891.27L981.77 889.98L982.85 888.69L983.94 887.39L985.02 886.08L986.1 884.76L987.19 883.44L988.27 882.11L989.35 880.77L990.44 879.42L991.52 878.07L992.6 876.71L993.69 875.34L994.77 873.96L995.86 872.57L996.94 871.18L998.02 869.78L999.11 868.37L1000.19 866.96L1001.27 865.54L1002.36 864.1L1003.44 862.67L1004.52 861.22L1005.61 859.77L1006.69 858.3L1007.77 856.83L1008.86 855.36L1009.94 853.87L1011.02 852.38L1012.11 850.88L1013.19 849.37L1014.27 847.85L1015.36 846.33L1016.44 844.8L1017.52 843.26L1018.61 841.71L1019.69 840.15L1020.77 838.59L1021.86 837.02L1022.94 835.44L1024.02 833.85L1025.11 832.26L1026.19 830.66L1027.27 829.04L1028.36 827.43L1029.44 825.8L1030.52 824.17L1031.61 822.53L1032.69 820.88L1033.78 819.22L1034.86 817.55L1035.94 815.88L1037.03 814.2L1038.11 812.51L1039.19 810.82L1040.28 809.11L1041.36 807.4L1042.44 805.68L1043.53 803.95L1044.61 802.22L1045.69 800.47L1046.78 798.72L1047.86 796.97L1048.94 795.2L1050.03 793.43L1051.11 791.64L1052.19 789.85L1053.28 788.06L1054.36 786.25L1055.44 784.44L1056.53 782.62L1057.61 780.79L1058.69 778.96L1059.78 777.12L1060.86 775.27L1061.94 773.41L1063.03 771.54L1064.11 769.67L1065.19 767.79L1066.28 765.9L1067.36 764.01L1068.44 762.11L1069.53 760.2L1070.61 758.28L1071.69 756.35L1072.78 754.42L1073.86 752.48L1074.95 750.54L1076.03 748.58L1077.11 746.62L1078.2 744.65L1079.28 742.68L1080.36 740.7L1081.45 738.71L1082.53 736.71L1083.61 734.71L1084.7 732.7L1085.78 730.68L1086.86 728.65L1087.95 726.62L1089.03 724.58L1090.11 722.54L1091.2 720.49L1092.28 718.43L1093.36 716.36L1094.45 714.29L1095.53 712.21L1096.61 710.13L1097.7 708.04L1098.78 705.94L1099.86 703.83L1100.95 701.72L1102.03 699.6L1103.11 697.48L1104.2 695.35L1105.28 693.21L1106.36 691.07L1107.45 688.92L1108.53 686.77L1109.61 684.6L1110.7 682.44L1111.78 680.26L1112.87 678.09L1113.95 675.9L1115.03 673.71L1116.12 671.51L1117.2 669.31L1118.28 667.1L1119.37 664.89L1120.45 662.67L1121.53 660.45L1122.62 658.22L1123.7 655.98L1124.78 653.74L1125.87 651.5L1126.95 649.25L1128.03 646.99L1129.12 644.73L1130.2 642.47" stroke="#77AC30"/>
<path d="M156.2 1055.56L157.28 1055.56L158.37 1055.56L159.45 1055.56L160.53 1055.56L161.62 1055.56L162.7 1055.56L163.78 1055.56L164.87 1055.56L165.95 1055.56L167.03 1055.56L168.12 1055.56L169.2 1055.56L170.28 1055.56L171.37 1055.56L172.45 1055.56L173.53 1055.56L174.62 1055.56L175.7 1055.56L176.79 1055.56L177.87 1055.56L178.95 1055.56L180.04 1055.56L181.12 1055.56L182.2 1055.56L183.29 1055.56L184.37 1055.56L185.45 1055.56L186.54 1055.56L187.62 1055.56L188.7 1055.56L189.79 1055.56L190.87 1055.56L191.95 1055.56L193.04 1055.56L194.12 1055.56L195.2 1055.56L196.29 1055.56L197.37 1055.56L198.45 1055.56L199.54 1055.56L200.62 1055.56L201.7 1055.56L202.79 1055.56L203.87 1055.56L204.95 1055.56L206.04 1055.56L207.12 1055.56L208.2 1055.56L209.29 1055.56L210.37 1055.56L211.45 1055.56L212.54 1055.56L213.62 1055.56L214.71 1055.56L215.79 1055.56L216.87 1055.56L217.96 1055.56L219.04 1055.56L220.12 1055.56L221.21 1055.56L222.29 1055.56L223.37 1055.56L224.46 1055.56L225.54 1055.56L226.62 1055.56L227.71 1055.56L228.79 1055.56L229.87 1055.56L230.96 1055.56L232.04 1055.56L233.12 1055.56L234.21 1055.56L235.29 1055.56L236.37 1055.56L237.46 1055.56L238.54 1055.56L239.62 1055.56L240.71 1055.56L241.79 1055.56L242.87 1055.56L243.96 1055.56L245.04 1055.56L246.12 1055.56L247.21 1055.56L248.29 1055.56L249.37 1055.56L250.46 1055.56L251.54 1055.56L252.62 1055.56L253.71 1055.56L254.79 1055.56L255.88 1055.56L256.96 1055.56L258.04 1055.56L259.13 1055.56L260.21 1055.56L261.29 1055.56L262.38 1055.56L263.46 1055.56L264.54 1055.56L265.63 1055.56L266.71 1055.56L267.79 1055.56L268.88 1055.56L269.96 1055.56L271.04 1055.56L272.13 1055.56L273.21 1055.56L274.29 1055.56L275.38 1055.56L276.46 1055.56L277.54 1055.56L278.63 1055.56L279.71 1055.56L280.79 1055.56L281.88 1055.56L282.96 1055.56L284.04 1055.56L285.13 1055.56L286.21 1055.55L287.29 1055.55L288.38 1055.55L289.46 1055.55L290.54 1055.55L291.63 1055.54L292.71 1055.54L293.8 1055.54L294.88 1055.54L295.96 1055.53L297.05 1055.53L298.13 1055.53L299.21 1055.52L300.3 1055.52L301.38 1055.52L302.46 1055.51L303.55 1055.51L304.63 1055.5L305.71 1055.5L306.8 1055.5L307.88 1055.49L308.96 1055.49L310.05 1055.48L311.13 1055.48L312.21 1055.47L313.3 1055.47L314.38 1055.46L315.46 1055.46L316.55 1055.45L317.63 1055.45L318.71 1055.44L319.8 1055.44L320.88 1055.43L321.96 1055.42L323.05 1055.42L324.13 1055.41L325.21 1055.41L326.3 1055.4L327.38 1055.39L328.46 1055.39L329.55 1055.38L330.63 1055.38L331.72 1055.37L332.8 1055.36L333.88 1055.36L334.97 1055.35L336.05 1055.34L337.13 1055.34L338.22 1055.33L339.3 1055.32L340.38 1055.32L341.47 1055.31L342.55 1055.3L343.63 1055.3L344.72 1055.29L345.8 1055.29L346.88 1055.28L347.97 1055.27L349.05 1055.27L350.13 1055.26L351.22 1055.25L352.3 1055.25L353.38 1055.24L354.47 1055.23L355.55 1055.23L356.63 1055.22L357.72 1055.22L358.8 1055.21L359.88 1055.2L360.97 1055.2L362.05 1055.19L363.13 1055.19L364.22 1055.18L365.3 1055.17L366.38 1055.17L367.47 1055.16L368.55 1055.16L369.63 1055.15L370.72 1055.15L371.8 1055.14L372.89 1055.14L373.97 1055.13L375.05 1055.13L376.14 1055.12L377.22 1055.12L378.3 1055.12L379.39 1055.11L380.47 1055.11L381.55 1055.1L382.64 1055.1L383.72 1055.1L384.8 1055.09L385.89 1055.09L386.97 1055.09L388.05 1055.09L389.14 1055.08L390.22 1055.08L391.3 1055.08L392.39 1055.08L393.47 1055.08L394.55 1055.07L395.64 1055.07L396.72 1055.07L397.8 1055.07L398.89 1055.07L399.97 1055.07L401.05 1055.07L402.14 1055.07L403.22 1055.07L404.3 1055.07L405.39 1055.07L406.47 1055.07L407.55 1055.08L408.64 1055.08L409.72 1055.08L410.81 1055.08L411.89 1055.08L412.97 1055.08L414.06 1055.08L415.14 1055.08L416.22 1055.09L417.31 1055.09L418.39 1055.09L419.47 1055.09L420.56 1055.09L421.64 1055.09L422.72 1055.1L423.81 1055.1L424.89 1055.1L425.97 1055.1L427.06 1055.11L428.14 1055.11L429.22 1055.11L430.31 1055.12L431.39 1055.12L432.47 1055.12L433.56 1055.12L434.64 1055.13L435.72 1055.13L436.81 1055.13L437.89 1055.14L438.97 1055.14L440.06 1055.15L441.14 1055.15L442.22 1055.15L443.31 1055.16L444.39 1055.16L445.47 1055.16L446.56 1055.17L447.64 1055.17L448.73 1055.18L449.81 1055.18L450.89 1055.19L451.98 1055.19L453.06 1055.19L454.14 1055.2L455.23 1055.2L456.31 1055.21L457.39 1055.21L458.48 1055.22L459.56 1055.22L460.64 1055.23L461.73 1055.23L462.81 1055.24L463.89 1055.24L464.98 1055.25L466.06 1055.25L467.14 1055.26L468.23 1055.26L469.31 1055.27L470.39 1055.27L471.48 1055.28L472.56 1055.29L473.64 1055.29L474.73 1055.3L475.81 1055.3L476.89 1055.31L477.98 1055.31L479.06 1055.32L480.14 1055.32L481.23 1055.33L482.31 1055.34L483.39 1055.34L484.48 1055.35L485.56 1055.35L486.64 1055.36L487.73 1055.37L488.81 1055.37L489.9 1055.38L490.98 1055.38L492.06 1055.39L493.15 1055.4L494.23 1055.4L495.31 1055.41L496.4 1055.41L497.48 1055.42L498.56 1055.43L499.65 1055.43L500.73 1055.44L501.81 1055.45L502.9 1055.45L503.98 1055.46L505.06 1055.46L506.15 1055.47L507.23 1055.48L508.31 1055.48L509.4 1055.49L510.48 1055.5L511.56 1055.5L512.65 1055.51L513.73 1055.51L514.81 1055.52L515.9 1055.53L516.98 1055.53L518.06 1055.54L519.15 1055.55L520.23 1055.55L521.31 1055.56L522.4 1055.57L523.48 1055.57L524.56 1055.58L525.65 1055.59L526.73 1055.6L527.82 1055.6L528.9 1055.61L529.98 1055.62L531.07 1055.63L532.15 1055.64L533.23 1055.65L534.32 1055.66L535.4 1055.67L536.48 1055.68L537.57 1055.7L538.65 1055.71L539.73 1055.72L540.82 1055.73L541.9 1055.74L542.98 1055.76L544.07 1055.77L545.15 1055.78L546.23 1055.79L547.32 1055.81L548.4 1055.82L549.48 1055.83L550.57 1055.84L551.65 1055.86L552.73 1055.87L553.82 1055.88L554.9 1055.9L555.98 1055.91L557.07 1055.92L558.15 1055.93L559.23 1055.95L560.32 1055.96L561.4 1055.97L562.48 1055.99L563.57 1056L564.65 1056.01L565.74 1056.02L566.82 1056.04L567.9 1056.05L568.99 1056.06L570.07 1056.07L571.15 1056.08L572.24 1056.1L573.32 1056.11L574.4 1056.12L575.49 1056.13L576.57 1056.14L577.65 1056.15L578.74 1056.16L579.82 1056.17L580.9 1056.18L581.99 1056.19L583.07 1056.2L584.15 1056.21L585.24 1056.22L586.32 1056.23L587.4 1056.24L588.49 1056.25L589.57 1056.26L590.65 1056.27L591.74 1056.27L592.82 1056.28L593.9 1056.29L594.99 1056.3L596.07 1056.3L597.15 1056.31L598.24 1056.32L599.32 1056.32L600.4 1056.33L601.49 1056.33L602.57 1056.34L603.65 1056.35L604.74 1056.35L605.82 1056.36L606.91 1056.36L607.99 1056.37L609.07 1056.37L610.16 1056.38L611.24 1056.38L612.32 1056.39L613.41 1056.39L614.49 1056.4L615.57 1056.4L616.66 1056.41L617.74 1056.41L618.82 1056.42L619.91 1056.42L620.99 1056.43L622.07 1056.43L623.16 1056.44L624.24 1056.44L625.32 1056.45L626.41 1056.45L627.49 1056.46L628.57 1056.46L629.66 1056.47L630.74 1056.47L631.82 1056.48L632.91 1056.48L633.99 1056.49L635.07 1056.49L636.16 1056.5L637.24 1056.51L638.32 1056.51L639.41 1056.52L640.49 1056.52L641.57 1056.53L642.66 1056.53L643.74 1056.54L644.83 1056.55L645.91 1056.55L646.99 1056.56L648.08 1056.57L649.16 1056.57L650.24 1056.58L651.33 1056.59L652.41 1056.6L653.49 1056.61L654.58 1056.61L655.66 1056.62L656.74 1056.63L657.83 1056.64L658.91 1056.65L659.99 1056.66L661.08 1056.66L662.16 1056.67L663.24 1056.68L664.33 1056.69L665.41 1056.7L666.49 1056.7L667.58 1056.71L668.66 1056.72L669.74 1056.72L670.83 1056.73L671.91 1056.74L672.99 1056.74L674.08 1056.75L675.16 1056.75L676.24 1056.76L677.33 1056.76L678.41 1056.77L679.49 1056.77L680.58 1056.77L681.66 1056.78L682.75 1056.78L683.83 1056.78L684.91 1056.78L686 1056.78L687.08 1056.78L688.16 1056.77L689.25 1056.76L690.33 1056.75L691.41 1056.74L692.5 1056.72L693.58 1056.7L694.66 1056.67L695.75 1056.65L696.83 1056.62L697.91 1056.58L699 1056.54L700.08 1056.5L701.16 1056.46L702.25 1056.42L703.33 1056.37L704.41 1056.31L705.5 1056.25L706.58 1056.19L707.66 1056.13L708.75 1056.06L709.83 1055.99L710.91 1055.92L712 1055.84L713.08 1055.76L714.16 1055.67L715.25 1055.58L716.33 1055.49L717.41 1055.4L718.5 1055.3L719.58 1055.2L720.66 1055.1L721.75 1055L722.83 1054.89L723.92 1054.78L725 1054.68L726.08 1054.57L727.17 1054.46L728.25 1054.36L729.33 1054.25L730.42 1054.14L731.5 1054.03L732.58 1053.91L733.67 1053.79L734.75 1053.66L735.83 1053.53L736.92 1053.39L738 1053.25L739.08 1053.11L740.17 1052.96L741.25 1052.8L742.33 1052.64L743.42 1052.48L744.5 1052.31L745.58 1052.13L746.67 1051.96L747.75 1051.77L748.83 1051.58L749.92 1051.39L751 1051.19L752.08 1050.98L753.17 1050.78L754.25 1050.56L755.33 1050.34L756.42 1050.12L757.5 1049.9L758.58 1049.66L759.67 1049.43L760.75 1049.19L761.84 1048.95L762.92 1048.71L764 1048.46L765.09 1048.21L766.17 1047.95L767.25 1047.69L768.34 1047.43L769.42 1047.16L770.5 1046.88L771.59 1046.59L772.67 1046.3L773.75 1046L774.84 1045.7L775.92 1045.39L777 1045.08L778.09 1044.76L779.17 1044.43L780.25 1044.09L781.34 1043.75L782.42 1043.4L783.5 1043.05L784.59 1042.69L785.67 1042.32L786.75 1041.95L787.84 1041.57L788.92 1041.19L790 1040.8L791.09 1040.4L792.17 1040L793.25 1039.59L794.34 1039.18L795.42 1038.76L796.5 1038.33L797.59 1037.9L798.67 1037.47L799.76 1037.03L800.84 1036.58L801.92 1036.14L803.01 1035.68L804.09 1035.23L805.17 1034.76L806.26 1034.3L807.34 1033.83L808.42 1033.36L809.51 1032.89L810.59 1032.41L811.67 1031.93L812.76 1031.46L813.84 1030.99L814.92 1030.52L816.01 1030.06L817.09 1029.59L818.17 1029.13L819.26 1028.67L820.34 1028.2L821.42 1027.74L822.51 1027.27L823.59 1026.8L824.67 1026.32L825.76 1025.84L826.84 1025.34L827.92 1024.83L829.01 1024.31L830.09 1023.77L831.17 1023.21L832.26 1022.63L833.34 1022.03L834.42 1021.4L835.51 1020.76L836.59 1020.09L837.67 1019.4L838.76 1018.69L839.84 1017.96L840.93 1017.21L842.01 1016.45L843.09 1015.67L844.18 1014.88L845.26 1014.07L846.34 1013.24L847.43 1012.41L848.51 1011.56L849.59 1010.69L850.68 1009.82L851.76 1008.93L852.84 1008.03L853.93 1007.12L855.01 1006.2L856.09 1005.26L857.18 1004.32L858.26 1003.36L859.34 1002.39L860.43 1001.41L861.51 1000.42L862.59 999.42L863.68 998.4L864.76 997.37L865.84 996.32L866.93 995.25L868.01 994.17L869.09 993.07L870.18 991.95L871.26 990.82L872.34 989.67L873.43 988.5L874.51 987.32L875.59 986.11L876.68 984.89L877.76 983.66L878.85 982.4L879.93 981.12L881.01 979.83L882.1 978.52L883.18 977.19L884.26 975.84L885.35 974.47L886.43 973.08L887.51 971.68L888.6 970.25L889.68 968.81L890.76 967.34L891.85 965.86L892.93 964.35L894.01 962.83L895.1 961.28L896.18 959.72L897.26 958.13L898.35 956.53L899.43 954.9L900.51 953.25L901.6 951.59L902.68 949.9L903.76 948.19L904.85 946.46L905.93 944.71L907.01 942.94L908.1 941.14L909.18 939.33L910.26 937.5L911.35 935.64L912.43 933.76L913.51 931.87L914.6 929.95L915.68 928.01L916.77 926.04L917.85 924.06L918.93 922.05L920.02 920.02L921.1 917.97L922.18 915.9L923.27 913.8L924.35 911.68L925.43 909.54L926.52 907.38L927.6 905.19L928.68 902.98L929.77 900.75L930.85 898.49L931.93 896.21L933.02 893.9L934.1 891.57L935.18 889.22L936.27 886.84L937.35 884.44L938.43 882.02L939.52 879.57L940.6 877.09L941.68 874.59L942.77 872.07L943.85 869.52L944.93 866.94L946.02 864.35L947.1 861.72L948.18 859.07L949.27 856.39L950.35 853.69L951.43 850.96L952.52 848.21L953.6 845.43L954.68 842.62L955.77 839.79L956.85 836.93L957.94 834.04L959.02 831.13L960.1 828.19L961.19 825.22L962.27 822.23L963.35 819.2L964.44 816.15L965.52 813.08L966.6 809.97L967.69 806.84L968.77 803.68L969.85 800.49L970.94 797.27L972.02 794.03L973.1 790.75L974.19 787.45L975.27 784.12L976.35 780.76L977.44 777.37L978.52 773.95L979.6 770.5L980.69 767.02L981.77 763.51L982.85 759.97L983.94 756.41L985.02 752.81L986.1 749.18L987.19 745.52L988.27 741.83L989.35 738.12L990.44 734.37L991.52 730.58L992.6 726.77L993.69 722.93L994.77 719.05L995.86 715.15L996.94 711.21L998.02 707.24L999.11 703.24L1000.19 699.2L1001.27 695.14L1002.36 691.04L1003.44 686.91L1004.52 682.74L1005.61 678.55L1006.69 674.32L1007.77 670.05L1008.86 665.75L1009.94 661.42L1011.02 657.06L1012.11 652.66L1013.19 648.22L1014.27 643.75L1015.36 639.25L1016.44 634.71L1017.52 630.14L1018.61 625.53L1019.69 620.88L1020.77 616.2L1021.86 611.48L1022.94 606.73L1024.02 601.94L1025.11 597.11L1026.19 592.24L1027.27 587.34L1028.36 582.39L1029.44 577.41L1030.52 572.4L1031.61 567.34L1032.69 562.24L1033.78 557.11L1034.86 551.93L1035.94 546.71L1037.03 541.46L1038.11 536.16L1039.19 530.82L1040.28 525.44L1041.36 520.02L1042.44 514.56L1043.53 509.05L1044.61 503.5L1045.69 497.91L1046.78 492.28L1047.86 486.6L1048.94 480.87L1050.03 475.1L1051.11 469.29L1052.19 463.43L1053.28 457.53L1054.36 451.58L1055.44 445.58L1056.53 439.53L1057.61 433.44L1058.69 427.3L1059.78 421.11L1060.86 414.87L1061.94 408.58L1063.03 402.24L1064.11 395.85L1065.19 389.41L1066.28 382.92L1067.36 376.38L1068.44 369.78L1069.53 363.13L1070.61 356.42L1071.69 349.67L1072.78 342.85L1073.86 335.98L1074.95 329.06L1076.03 322.08L1077.11 315.04L1078.2 307.94L1079.28 300.79L1080.36 293.57L1081.45 286.29L1082.53 278.96L1083.61 271.56L1084.7 264.1L1085.78 256.58L1086.86 248.99L1087.95 241.34L1089.03 233.63L1090.11 225.85L1091.2 218L1092.28 210.09L1093.36 202.1L1094.45 194.05L1095.53 185.93L1096.61 177.74L1097.7 169.47L1098.78 161.14L1099.86 152.73L1100.95 144.24L1102.03 135.68L1103.11 127.05L1104.2 118.34L1105.28 109.54L1106.36 100.67L1107.45 91.72L1108.53 82.69L1109.61 73.58L1110.7 64.38L1111.78 55.1L1112.87 45.73L1113.95 36.28L1115.03 26.73L1116.12 17.1L1117.2 7.38L1118.28 -2.43L1119.37 -12.34L1120.45 -22.34L1121.53 -32.43L1122.62 -42.63L1123.7 -52.92L1124.78 -63.31L1125.87 -73.8L1126.95 -84.39" stroke="#4DBEEE"/>
<path d="M156.2 1055.56L157.28 1055.55L158.37 1055.54L159.45 1055.53L160.53 1055.52L161.62 1055.52L162.7 1055.51L163.78 1055.5L164.87 1055.49L165.95 1055.48L167.03 1055.47L168.12 1055.47L169.2 1055.46L170.28 1055.45L171.37 1055.44L172.45 1055.43L173.53 1055.43L174.62 1055.42L175.7 1055.41L176.79 1055.4L177.87 1055.39L178.95 1055.39L180.04 1055.38L181.12 1055.37L182.2 1055.37L183.29 1055.36L184.37 1055.35L185.45 1055.35L186.54 1055.34L187.62 1055.33L188.7 1055.33L189.79 1055.32L190.87 1055.31L191.95 1055.31L193.04 1055.3L194.12 1055.29L195.2 1055.29L196.29 1055.28L197.37 1055.28L198.45 1055.27L199.54 1055.26L200.62 1055.26L201.7 1055.25L202.79 1055.25L203.87 1055.24L204.95 1055.24L206.04 1055.23L207.12 1055.23L208.2 1055.22L209.29 1055.22L210.37 1055.21L211.45 1055.21L212.54 1055.2L213.62 1055.2L214.71 1055.19L215.79 1055.19L216.87 1055.18L217.96 1055.18L219.04 1055.18L220.12 1055.17L221.21 1055.17L222.29 1055.16L223.37 1055.16L224.46 1055.16L225.54 1055.15L226.62 1055.15L227.71 1055.15L228.79 1055.14L229.87 1055.14L230.96 1055.14L232.04 1055.13L233.12 1055.13L234.21 1055.13L235.29 1055.12L236.37 1055.12L237.46 1055.12L238.54 1055.12L239.62 1055.11L240.71 1055.11L241.79 1055.11L242.87 1055.11L243.96 1055.1L245.04 1055.1L246.12 1055.1L247.21 1055.1L248.29 1055.1L249.37 1055.09L250.46 1055.09L251.54 1055.09L252.62 1055.09L253.71 1055.09L254.79 1055.09L255.88 1055.09L256.96 1055.08L258.04 1055.08L259.13 1055.08L260.21 1055.08L261.29 1055.08L262.38 1055.08L263.46 1055.08L264.54 1055.08L265.63 1055.08L266.71 1055.08L267.79 1055.07L268.88 1055.07L269.96 1055.07L271.04 1055.07L272.13 1055.07L273.21 1055.07L274.29 1055.07L275.38 1055.07L276.46 1055.07L277.54 1055.07L278.63 1055.07L279.71 1055.07L280.79 1055.07L281.88 1055.07L282.96 1055.08L284.04 1055.08L285.13 1055.08L286.21 1055.08L287.29 1055.09L288.38 1055.09L289.46 1055.09L290.54 1055.1L291.63 1055.1L292.71 1055.11L293.8 1055.11L294.88 1055.12L295.96 1055.12L297.05 1055.13L298.13 1055.13L299.21 1055.14L300.3 1055.15L301.38 1055.15L302.46 1055.16L303.55 1055.17L304.63 1055.17L305.71 1055.18L306.8 1055.19L307.88 1055.2L308.96 1055.21L310.05 1055.21L311.13 1055.22L312.21 1055.23L313.3 1055.24L314.38 1055.25L315.46 1055.26L316.55 1055.27L317.63 1055.27L318.71 1055.28L319.8 1055.29L320.88 1055.3L321.96 1055.31L323.05 1055.32L324.13 1055.33L325.21 1055.34L326.3 1055.35L327.38 1055.36L328.46 1055.37L329.55 1055.38L330.63 1055.39L331.72 1055.4L332.8 1055.41L333.88 1055.42L334.97 1055.43L336.05 1055.44L337.13 1055.45L338.22 1055.46L339.3 1055.47L340.38 1055.48L341.47 1055.49L342.55 1055.5L343.63 1055.51L344.72 1055.52L345.8 1055.53L346.88 1055.54L347.97 1055.54L349.05 1055.55L350.13 1055.56L351.22 1055.57L352.3 1055.58L353.38 1055.59L354.47 1055.6L355.55 1055.61L356.63 1055.62L357.72 1055.62L358.8 1055.63L359.88 1055.64L360.97 1055.65L362.05 1055.66L363.13 1055.66L364.22 1055.67L365.3 1055.68L366.38 1055.68L367.47 1055.69L368.55 1055.7L369.63 1055.71L370.72 1055.71L371.8 1055.72L372.89 1055.72L373.97 1055.73L375.05 1055.74L376.14 1055.74L377.22 1055.75L378.3 1055.75L379.39 1055.76L380.47 1055.76L381.55 1055.77L382.64 1055.77L383.72 1055.77L384.8 1055.78L385.89 1055.78L386.97 1055.78L388.05 1055.79L389.14 1055.79L390.22 1055.79L391.3 1055.8L392.39 1055.8L393.47 1055.8L394.55 1055.8L395.64 1055.8L396.72 1055.8L397.8 1055.8L398.89 1055.8L399.97 1055.8L401.05 1055.8L402.14 1055.8L403.22 1055.8L404.3 1055.8L405.39 1055.8L406.47 1055.79L407.55 1055.79L408.64 1055.78L409.72 1055.78L410.81 1055.77L411.89 1055.76L412.97 1055.76L414.06 1055.75L415.14 1055.74L416.22 1055.73L417.31 1055.72L418.39 1055.71L419.47 1055.7L420.56 1055.69L421.64 1055.68L422.72 1055.67L423.81 1055.65L424.89 1055.64L425.97 1055.63L427.06 1055.61L428.14 1055.6L429.22 1055.58L430.31 1055.57L431.39 1055.55L432.47 1055.53L433.56 1055.52L434.64 1055.5L435.72 1055.48L436.81 1055.46L437.89 1055.44L438.97 1055.42L440.06 1055.4L441.14 1055.38L442.22 1055.36L443.31 1055.34L444.39 1055.32L445.47 1055.3L446.56 1055.28L447.64 1055.25L448.73 1055.23L449.81 1055.21L450.89 1055.18L451.98 1055.16L453.06 1055.13L454.14 1055.11L455.23 1055.08L456.31 1055.06L457.39 1055.03L458.48 1055L459.56 1054.98L460.64 1054.95L461.73 1054.92L462.81 1054.9L463.89 1054.87L464.98 1054.84L466.06 1054.81L467.14 1054.78L468.23 1054.75L469.31 1054.73L470.39 1054.7L471.48 1054.67L472.56 1054.64L473.64 1054.61L474.73 1054.58L475.81 1054.55L476.89 1054.52L477.98 1054.49L479.06 1054.46L480.14 1054.43L481.23 1054.4L482.31 1054.37L483.39 1054.34L484.48 1054.31L485.56 1054.28L486.64 1054.26L487.73 1054.23L488.81 1054.2L489.9 1054.17L490.98 1054.14L492.06 1054.11L493.15 1054.09L494.23 1054.06L495.31 1054.03L496.4 1054.01L497.48 1053.98L498.56 1053.96L499.65 1053.93L500.73 1053.91L501.81 1053.89L502.9 1053.86L503.98 1053.84L505.06 1053.82L506.15 1053.8L507.23 1053.78L508.31 1053.76L509.4 1053.74L510.48 1053.73L511.56 1053.71L512.65 1053.69L513.73 1053.68L514.81 1053.67L515.9 1053.65L516.98 1053.64L518.06 1053.63L519.15 1053.62L520.23 1053.62L521.31 1053.61L522.4 1053.6L523.48 1053.6L524.56 1053.59L525.65 1053.59L526.73 1053.58L527.82 1053.57L528.9 1053.57L529.98 1053.56L531.07 1053.56L532.15 1053.55L533.23 1053.55L534.32 1053.54L535.4 1053.54L536.48 1053.53L537.57 1053.52L538.65 1053.52L539.73 1053.51L540.82 1053.51L541.9 1053.5L542.98 1053.5L544.07 1053.49L545.15 1053.49L546.23 1053.48L547.32 1053.48L548.4 1053.47L549.48 1053.47L550.57 1053.47L551.65 1053.46L552.73 1053.46L553.82 1053.45L554.9 1053.45L555.98 1053.44L557.07 1053.44L558.15 1053.44L559.23 1053.43L560.32 1053.43L561.4 1053.42L562.48 1053.42L563.57 1053.42L564.65 1053.41L565.74 1053.41L566.82 1053.41L567.9 1053.4L568.99 1053.4L570.07 1053.4L571.15 1053.4L572.24 1053.39L573.32 1053.39L574.4 1053.39L575.49 1053.39L576.57 1053.38L577.65 1053.38L578.74 1053.38L579.82 1053.38L580.9 1053.38L581.99 1053.37L583.07 1053.37L584.15 1053.37L585.24 1053.37L586.32 1053.37L587.4 1053.37L588.49 1053.37L589.57 1053.37L590.65 1053.36L591.74 1053.36L592.82 1053.36L593.9 1053.36L594.99 1053.36L596.07 1053.37L597.15 1053.37L598.24 1053.38L599.32 1053.38L600.4 1053.39L601.49 1053.4L602.57 1053.42L603.65 1053.43L604.74 1053.44L605.82 1053.46L606.91 1053.48L607.99 1053.5L609.07 1053.52L610.16 1053.54L611.24 1053.56L612.32 1053.58L613.41 1053.61L614.49 1053.63L615.57 1053.66L616.66 1053.68L617.74 1053.71L618.82 1053.74L619.91 1053.77L620.99 1053.79L622.07 1053.82L623.16 1053.85L624.24 1053.88L625.32 1053.91L626.41 1053.93L627.49 1053.96L628.57 1053.99L629.66 1054.02L630.74 1054.05L631.82 1054.07L632.91 1054.1L633.99 1054.13L635.07 1054.16L636.16 1054.18L637.24 1054.21L638.32 1054.23L639.41 1054.26L640.49 1054.28L641.57 1054.31L642.66 1054.33L643.74 1054.35L644.83 1054.37L645.91 1054.4L646.99 1054.42L648.08 1054.45L649.16 1054.48L650.24 1054.5L651.33 1054.53L652.41 1054.56L653.49 1054.59L654.58 1054.62L655.66 1054.65L656.74 1054.68L657.83 1054.71L658.91 1054.74L659.99 1054.77L661.08 1054.8L662.16 1054.83L663.24 1054.86L664.33 1054.89L665.41 1054.92L666.49 1054.95L667.58 1054.98L668.66 1055.01L669.74 1055.04L670.83 1055.06L671.91 1055.09L672.99 1055.12L674.08 1055.15L675.16 1055.17L676.24 1055.2L677.33 1055.22L678.41 1055.25L679.49 1055.27L680.58 1055.29L681.66 1055.32L682.75 1055.34L683.83 1055.36L684.91 1055.38L686 1055.4L687.08 1055.41L688.16 1055.43L689.25 1055.45L690.33 1055.46L691.41 1055.48L692.5 1055.49L693.58 1055.5L694.66 1055.51L695.75 1055.52L696.83 1055.53L697.91 1055.54L699 1055.55L700.08 1055.55L701.16 1055.56L702.25 1055.56L703.33 1055.56L704.41 1055.56L705.5 1055.56L706.58 1055.56L707.66 1055.55L708.75 1055.55L709.83 1055.55L710.91 1055.54L712 1055.53L713.08 1055.52L714.16 1055.52L715.25 1055.51L716.33 1055.49L717.41 1055.48L718.5 1055.47L719.58 1055.46L720.66 1055.44L721.75 1055.43L722.83 1055.41L723.92 1055.39L725 1055.37L726.08 1055.36L727.17 1055.34L728.25 1055.31L729.33 1055.29L730.42 1055.27L731.5 1055.25L732.58 1055.22L733.67 1055.2L734.75 1055.17L735.83 1055.14L736.92 1055.11L738 1055.09L739.08 1055.06L740.17 1055.03L741.25 1054.99L742.33 1054.96L743.42 1054.93L744.5 1054.89L745.58 1054.86L746.67 1054.82L747.75 1054.79L748.83 1054.75L749.92 1054.71L751 1054.67L752.08 1054.63L753.17 1054.59L754.25 1054.55L755.33 1054.51L756.42 1054.46L757.5 1054.42L758.58 1054.37L759.67 1054.33L760.75 1054.28L761.84 1054.24L762.92 1054.19L764 1054.14L765.09 1054.09L766.17 1054.04L767.25 1053.98L768.34 1053.92L769.42 1053.85L770.5 1053.78L771.59 1053.71L772.67 1053.63L773.75 1053.55L774.84 1053.46L775.92 1053.36L777 1053.26L778.09 1053.16L779.17 1053.05L780.25 1052.94L781.34 1052.82L782.42 1052.69L783.5 1052.56L784.59 1052.42L785.67 1052.28L786.75 1052.13L787.84 1051.98L788.92 1051.82L790 1051.66L791.09 1051.48L792.17 1051.31L793.25 1051.12L794.34 1050.93L795.42 1050.74L796.5 1050.54L797.59 1050.33L798.67 1050.12L799.76 1049.9L800.84 1049.67L801.92 1049.44L803.01 1049.2L804.09 1048.96L805.17 1048.72L806.26 1048.47L807.34 1048.21L808.42 1047.95L809.51 1047.69L810.59 1047.42L811.67 1047.15L812.76 1046.87L813.84 1046.58L814.92 1046.27L816.01 1045.96L817.09 1045.63L818.17 1045.29L819.26 1044.94L820.34 1044.58L821.42 1044.2L822.51 1043.82L823.59 1043.42L824.67 1043.01L825.76 1042.59L826.84 1042.16L827.92 1041.73L829.01 1041.28L830.09 1040.83L831.17 1040.38L832.26 1039.92L833.34 1039.45L834.42 1038.98L835.51 1038.5L836.59 1038.03L837.67 1037.55L838.76 1037.06L839.84 1036.58L840.93 1036.08L842.01 1035.58L843.09 1035.08L844.18 1034.56L845.26 1034.04L846.34 1033.5L847.43 1032.96L848.51 1032.4L849.59 1031.84L850.68 1031.26L851.76 1030.66L852.84 1030.06L853.93 1029.44L855.01 1028.8L856.09 1028.16L857.18 1027.5L858.26 1026.82L859.34 1026.13L860.43 1025.43L861.51 1024.72L862.59 1023.99L863.68 1023.24L864.76 1022.49L865.84 1021.72L866.93 1020.93L868.01 1020.14L869.09 1019.33L870.18 1018.5L871.26 1017.66L872.34 1016.81L873.43 1015.94L874.51 1015.06L875.59 1014.16L876.68 1013.25L877.76 1012.33L878.85 1011.38L879.93 1010.42L881.01 1009.45L882.1 1008.46L883.18 1007.45L884.26 1006.43L885.35 1005.39L886.43 1004.33L887.51 1003.26L888.6 1002.17L889.68 1001.06L890.76 999.94L891.85 998.79L892.93 997.63L894.01 996.45L895.1 995.25L896.18 994.04L897.26 992.8L898.35 991.55L899.43 990.27L900.51 988.98L901.6 987.67L902.68 986.33L903.76 984.98L904.85 983.6L905.93 982.21L907.01 980.79L908.1 979.36L909.18 977.9L910.26 976.42L911.35 974.92L912.43 973.39L913.51 971.85L914.6 970.28L915.68 968.68L916.77 967.07L917.85 965.43L918.93 963.77L920.02 962.08L921.1 960.37L922.18 958.64L923.27 956.88L924.35 955.09L925.43 953.28L926.52 951.45L927.6 949.58L928.68 947.7L929.77 945.78L930.85 943.84L931.93 941.87L933.02 939.88L934.1 937.86L935.18 935.81L936.27 933.73L937.35 931.62L938.43 929.48L939.52 927.32L940.6 925.13L941.68 922.9L942.77 920.65L943.85 918.37L944.93 916.05L946.02 913.71L947.1 911.34L948.18 908.93L949.27 906.49L950.35 904.02L951.43 901.52L952.52 898.98L953.6 896.42L954.68 893.82L955.77 891.18L956.85 888.51L957.94 885.81L959.02 883.07L960.1 880.3L961.19 877.49L962.27 874.65L963.35 871.77L964.44 868.85L965.52 865.9L966.6 862.91L967.69 859.89L968.77 856.82L969.85 853.72L970.94 850.58L972.02 847.4L973.1 844.18L974.19 840.92L975.27 837.62L976.35 834.28L977.44 830.9L978.52 827.48L979.6 824.02L980.69 820.52L981.77 816.97L982.85 813.38L983.94 809.74L985.02 806.07L986.1 802.35L987.19 798.58L988.27 794.77L989.35 790.91L990.44 787.01L991.52 783.06L992.6 779.07L993.69 775.03L994.77 770.94L995.86 766.81L996.94 762.62L998.02 758.39L999.11 754.11L1000.19 749.77L1001.27 745.39L1002.36 740.96L1003.44 736.48L1004.52 731.94L1005.61 727.36L1006.69 722.72L1007.77 718.03L1008.86 713.28L1009.94 708.49L1011.02 703.63L1012.11 698.73L1013.19 693.76L1014.27 688.75L1015.36 683.67L1016.44 678.54L1017.52 673.36L1018.61 668.11L1019.69 662.81L1020.77 657.45L1021.86 652.03L1022.94 646.55L1024.02 641.01L1025.11 635.41L1026.19 629.74L1027.27 624.02L1028.36 618.23L1029.44 612.38L1030.52 606.47L1031.61 600.5L1032.69 594.45L1033.78 588.35L1034.86 582.18L1035.94 575.94L1037.03 569.63L1038.11 563.26L1039.19 556.82L1040.28 550.31L1041.36 543.73L1042.44 537.08L1043.53 530.36L1044.61 523.57L1045.69 516.71L1046.78 509.77L1047.86 502.76L1048.94 495.68L1050.03 488.53L1051.11 481.29L1052.19 473.99L1053.28 466.6L1054.36 459.14L1055.44 451.6L1056.53 443.99L1057.61 436.29L1058.69 428.51L1059.78 420.66L1060.86 412.72L1061.94 404.7L1063.03 396.59L1064.11 388.4L1065.19 380.13L1066.28 371.77L1067.36 363.33L1068.44 354.8L1069.53 346.18L1070.61 337.47L1071.69 328.68L1072.78 319.79L1073.86 310.81L1074.95 301.75L1076.03 292.58L1077.11 283.33L1078.2 273.98L1079.28 264.53L1080.36 254.99L1081.45 245.35L1082.53 235.62L1083.61 225.78L1084.7 215.84L1085.78 205.81L1086.86 195.67L1087.95 185.43L1089.03 175.08L1090.11 164.63L1091.2 154.07L1092.28 143.41L1093.36 132.64L1094.45 121.76L1095.53 110.77L1096.61 99.67L1097.7 88.45L1098.78 77.13L1099.86 65.68L1100.95 54.13L1102.03 42.45L1103.11 30.66L1104.2 18.75L1105.28 6.71L1106.36 -5.44L1107.45 -17.72L1108.53 -30.12L1109.61 -42.64L1110.7 -55.3L1111.78 -68.08L1112.87 -80.99" stroke="#A2142F"/>
<path d="M156.2 1055.56L157.28 1055.56L158.37 1055.56L159.45 1055.56L160.53 1055.56L161.62 1055.56L162.7 1055.56L163.78 1055.56L164.87 1055.56L165.95 1055.56L167.03 1055.56L168.12 1055.56L169.2 1055.56L170.28 1055.56L171.37 1055.56L172.45 1055.56L173.53 1055.56L174.62 1055.56L175.7 1055.56L176.79 1055.56L177.87 1055.56L178.95 1055.56L180.04 1055.56L181.12 1055.56L182.2 1055.56L183.29 1055.56L184.37 1055.56L185.45 1055.56L186.54 1055.56L187.62 1055.56L188.7 1055.56L189.79 1055.56L190.87 1055.56L191.95 1055.56L193.04 1055.56L194.12 1055.56L195.2 1055.56L196.29 1055.56L197.37 1055.56L198.45 1055.56L199.54 1055.56L200.62 1055.56L201.7 1055.56L202.79 1055.56L203.87 1055.56L204.95 1055.56L206.04 1055.56L207.12 1055.56L208.2 1055.56L209.29 1055.56L210.37 1055.56L211.45 1055.56L212.54 1055.56L213.62 1055.56L214.71 1055.56L215.79 1055.56L216.87 1055.56L217.96 1055.56L219.04 1055.56L220.12 1055.56L221.21 1055.56L222.29 1055.56L223.37 1055.56L224.46 1055.56L225.54 1055.56L226.62 1055.56L227.71 1055.56L228.79 1055.56L229.87 1055.56L230.96 1055.56L232.04 1055.56L233.12 1055.56L234.21 1055.56L235.29 1055.56L236.37 1055.56L237.46 1055.56L238.54 1055.56L239.62 1055.56L240.71 1055.56L241.79 1055.56L242.87 1055.56L243.96 1055.56L245.04 1055.56L246.12 1055.56L247.21 1055.56L248.29 1055.56L249.37 1055.56L250.46 1055.56L251.54 1055.56L252.62 1055.56L253.71 1055.56L254.79 1055.56L255.88 1055.56L256.96 1055.56L258.04 1055.56L259.13 1055.56L260.21 1055.56L261.29 1055.56L262.38 1055.56L263.46 1055.56L264.54 1055.56L265.63 1055.56L266.71 1055.56L267.79 1055.56L268.88 1055.56L269.96 1055.56L271.04 1055.56L272.13 1055.56L273.21 1055.56L274.29 1055.56L275.38 1055.56L276.46 1055.56L277.54 1055.56L278.63 1055.56L279.71 1055.56L280.79 1055.56L281.88 1055.56L282.96 1055.56L284.04 1055.56L285.13 1055.55L286.21 1055.55L287.29 1055.55L288.38 1055.55L289.46 1055.54L290.54 1055.54L291.63 1055.54L292.71 1055.53L293.8 1055.53L294.88 1055.53L295.96 1055.52L297.05 1055.52L298.13 1055.51L299.21 1055.51L300.3 1055.5L301.38 1055.5L302.46 1055.49L303.55 1055.49L304.63 1055.48L305.71 1055.47L306.8 1055.47L307.88 1055.46L308.96 1055.45L310.05 1055.45L311.13 1055.44L312.21 1055.43L313.3 1055.43L314.38 1055.42L315.46 1055.41L316.55 1055.4L317.63 1055.39L318.71 1055.39L319.8 1055.38L320.88 1055.37L321.96 1055.36L323.05 1055.35L324.13 1055.34L325.21 1055.34L326.3 1055.33L327.38 1055.32L328.46 1055.31L329.55 1055.3L330.63 1055.29L331.72 1055.28L332.8 1055.27L333.88 1055.26L334.97 1055.25L336.05 1055.24L337.13 1055.23L338.22 1055.22L339.3 1055.21L340.38 1055.2L341.47 1055.19L342.55 1055.18L343.63 1055.17L344.72 1055.16L345.8 1055.15L346.88 1055.14L347.97 1055.14L349.05 1055.13L350.13 1055.12L351.22 1055.11L352.3 1055.1L353.38 1055.09L354.47 1055.08L355.55 1055.07L356.63 1055.06L357.72 1055.05L358.8 1055.04L359.88 1055.03L360.97 1055.02L362.05 1055.01L363.13 1055L364.22 1054.99L365.3 1054.99L366.38 1054.98L367.47 1054.97L368.55 1054.96L369.63 1054.95L370.72 1054.94L371.8 1054.94L372.89 1054.93L373.97 1054.92L375.05 1054.92L376.14 1054.91L377.22 1054.9L378.3 1054.9L379.39 1054.89L380.47 1054.88L381.55 1054.88L382.64 1054.87L383.72 1054.87L384.8 1054.86L385.89 1054.86L386.97 1054.85L388.05 1054.85L389.14 1054.85L390.22 1054.84L391.3 1054.84L392.39 1054.84L393.47 1054.83L394.55 1054.83L395.64 1054.83L396.72 1054.83L397.8 1054.83L398.89 1054.83L399.97 1054.83L401.05 1054.83L402.14 1054.83L403.22 1054.83L404.3 1054.83L405.39 1054.83L406.47 1054.83L407.55 1054.83L408.64 1054.83L409.72 1054.83L410.81 1054.83L411.89 1054.83L412.97 1054.83L414.06 1054.83L415.14 1054.83L416.22 1054.83L417.31 1054.83L418.39 1054.83L419.47 1054.83L420.56 1054.83L421.64 1054.83L422.72 1054.83L423.81 1054.83L424.89 1054.83L425.97 1054.83L427.06 1054.83L428.14 1054.83L429.22 1054.83L430.31 1054.83L431.39 1054.83L432.47 1054.83L433.56 1054.83L434.64 1054.83L435.72 1054.83L436.81 1054.83L437.89 1054.83L438.97 1054.83L440.06 1054.83L441.14 1054.83L442.22 1054.83L443.31 1054.83L444.39 1054.83L445.47 1054.83L446.56 1054.83L447.64 1054.83L448.73 1054.83L449.81 1054.83L450.89 1054.83L451.98 1054.83L453.06 1054.83L454.14 1054.83L455.23 1054.83L456.31 1054.83L457.39 1054.83L458.48 1054.83L459.56 1054.83L460.64 1054.83L461.73 1054.83L462.81 1054.83L463.89 1054.83L464.98 1054.83L466.06 1054.83L467.14 1054.83L468.23 1054.83L469.31 1054.83L470.39 1054.83L471.48 1054.83L472.56 1054.83L473.64 1054.83L474.73 1054.83L475.81 1054.83L476.89 1054.83L477.98 1054.83L479.06 1054.83L480.14 1054.83L481.23 1054.83L482.31 1054.83L483.39 1054.83L484.48 1054.83L485.56 1054.83L486.64 1054.83L487.73 1054.83L488.81 1054.83L489.9 1054.83L490.98 1054.83L492.06 1054.83L493.15 1054.83L494.23 1054.83L495.31 1054.83L496.4 1054.83L497.48 1054.83L498.56 1054.83L499.65 1054.83L500.73 1054.83L501.81 1054.83L502.9 1054.83L503.98 1054.83L505.06 1054.83L506.15 1054.83L507.23 1054.83L508.31 1054.83L509.4 1054.83L510.48 1054.83L511.56 1054.83L512.65 1054.83L513.73 1054.83L514.81 1054.83L515.9 1054.83L516.98 1054.83L518.06 1054.83L519.15 1054.83L520.23 1054.83L521.31 1054.83L522.4 1054.83L523.48 1054.83L524.56 1054.83L525.65 1054.82L526.73 1054.82L527.82 1054.82L528.9 1054.81L529.98 1054.81L531.07 1054.8L532.15 1054.8L533.23 1054.79L534.32 1054.79L535.4 1054.78L536.48 1054.77L537.57 1054.76L538.65 1054.75L539.73 1054.74L540.82 1054.73L541.9 1054.72L542.98 1054.71L544.07 1054.7L545.15 1054.69L546.23 1054.68L547.32 1054.67L548.4 1054.65L549.48 1054.64L550.57 1054.63L551.65 1054.61L552.73 1054.6L553.82 1054.58L554.9 1054.56L555.98 1054.55L557.07 1054.53L558.15 1054.51L559.23 1054.5L560.32 1054.48L561.4 1054.46L562.48 1054.44L563.57 1054.42L564.65 1054.4L565.74 1054.38L566.82 1054.36L567.9 1054.34L568.99 1054.32L570.07 1054.3L571.15 1054.28L572.24 1054.26L573.32 1054.23L574.4 1054.21L575.49 1054.19L576.57 1054.16L577.65 1054.14L578.74 1054.12L579.82 1054.09L580.9 1054.07L581.99 1054.04L583.07 1054.02L584.15 1053.99L585.24 1053.97L586.32 1053.94L587.4 1053.92L588.49 1053.89L589.57 1053.86L590.65 1053.84L591.74 1053.81L592.82 1053.78L593.9 1053.75L594.99 1053.73L596.07 1053.7L597.15 1053.67L598.24 1053.65L599.32 1053.62L600.4 1053.59L601.49 1053.56L602.57 1053.53L603.65 1053.51L604.74 1053.48L605.82 1053.45L606.91 1053.42L607.99 1053.39L609.07 1053.37L610.16 1053.34L611.24 1053.31L612.32 1053.28L613.41 1053.26L614.49 1053.23L615.57 1053.2L616.66 1053.18L617.74 1053.15L618.82 1053.12L619.91 1053.1L620.99 1053.07L622.07 1053.04L623.16 1053.02L624.24 1052.99L625.32 1052.97L626.41 1052.94L627.49 1052.92L628.57 1052.9L629.66 1052.87L630.74 1052.85L631.82 1052.83L632.91 1052.81L633.99 1052.79L635.07 1052.77L636.16 1052.75L637.24 1052.73L638.32 1052.71L639.41 1052.69L640.49 1052.67L641.57 1052.66L642.66 1052.64L643.74 1052.62L644.83 1052.61L645.91 1052.6L646.99 1052.58L648.08 1052.57L649.16 1052.56L650.24 1052.54L651.33 1052.53L652.41 1052.52L653.49 1052.51L654.58 1052.5L655.66 1052.49L656.74 1052.48L657.83 1052.47L658.91 1052.46L659.99 1052.45L661.08 1052.44L662.16 1052.43L663.24 1052.42L664.33 1052.41L665.41 1052.4L666.49 1052.39L667.58 1052.38L668.66 1052.37L669.74 1052.36L670.83 1052.35L671.91 1052.34L672.99 1052.33L674.08 1052.31L675.16 1052.3L676.24 1052.29L677.33 1052.28L678.41 1052.26L679.49 1052.25L680.58 1052.23L681.66 1052.21L682.75 1052.2L683.83 1052.18L684.91 1052.16L686 1052.14L687.08 1052.12L688.16 1052.09L689.25 1052.07L690.33 1052.04L691.41 1052.01L692.5 1051.98L693.58 1051.94L694.66 1051.9L695.75 1051.86L696.83 1051.82L697.91 1051.78L699 1051.73L700.08 1051.68L701.16 1051.63L702.25 1051.58L703.33 1051.52L704.41 1051.47L705.5 1051.41L706.58 1051.35L707.66 1051.28L708.75 1051.22L709.83 1051.15L710.91 1051.08L712 1051.01L713.08 1050.93L714.16 1050.86L715.25 1050.78L716.33 1050.7L717.41 1050.61L718.5 1050.53L719.58 1050.44L720.66 1050.35L721.75 1050.26L722.83 1050.17L723.92 1050.07L725 1049.97L726.08 1049.87L727.17 1049.77L728.25 1049.67L729.33 1049.56L730.42 1049.46L731.5 1049.35L732.58 1049.24L733.67 1049.12L734.75 1049.01L735.83 1048.89L736.92 1048.77L738 1048.65L739.08 1048.53L740.17 1048.41L741.25 1048.28L742.33 1048.15L743.42 1048.03L744.5 1047.9L745.58 1047.76L746.67 1047.63L747.75 1047.5L748.83 1047.37L749.92 1047.23L751 1047.09L752.08 1046.96L753.17 1046.82L754.25 1046.68L755.33 1046.54L756.42 1046.4L757.5 1046.26L758.58 1046.13L759.67 1045.99L760.75 1045.85L761.84 1045.71L762.92 1045.57L764 1045.43L765.09 1045.29L766.17 1045.16L767.25 1045.02L768.34 1044.88L769.42 1044.74L770.5 1044.59L771.59 1044.45L772.67 1044.3L773.75 1044.15L774.84 1044L775.92 1043.85L777 1043.7L778.09 1043.54L779.17 1043.39L780.25 1043.23L781.34 1043.07L782.42 1042.9L783.5 1042.74L784.59 1042.57L785.67 1042.41L786.75 1042.24L787.84 1042.06L788.92 1041.89L790 1041.71L791.09 1041.53L792.17 1041.35L793.25 1041.17L794.34 1040.98L795.42 1040.8L796.5 1040.61L797.59 1040.41L798.67 1040.22L799.76 1040.02L800.84 1039.82L801.92 1039.61L803.01 1039.41L804.09 1039.2L805.17 1038.99L806.26 1038.77L807.34 1038.55L808.42 1038.33L809.51 1038.11L810.59 1037.88L811.67 1037.65L812.76 1037.42L813.84 1037.18L814.92 1036.94L816.01 1036.7L817.09 1036.46L818.17 1036.21L819.26 1035.96L820.34 1035.7L821.42 1035.45L822.51 1035.18L823.59 1034.92L824.67 1034.65L825.76 1034.37L826.84 1034.09L827.92 1033.8L829.01 1033.5L830.09 1033.2L831.17 1032.89L832.26 1032.57L833.34 1032.24L834.42 1031.9L835.51 1031.56L836.59 1031.2L837.67 1030.84L838.76 1030.46L839.84 1030.08L840.93 1029.69L842.01 1029.29L843.09 1028.87L844.18 1028.45L845.26 1028.02L846.34 1027.59L847.43 1027.14L848.51 1026.69L849.59 1026.23L850.68 1025.76L851.76 1025.28L852.84 1024.8L853.93 1024.31L855.01 1023.82L856.09 1023.32L857.18 1022.81L858.26 1022.29L859.34 1021.77L860.43 1021.25L861.51 1020.72L862.59 1020.18L863.68 1019.63L864.76 1019.08L865.84 1018.51L866.93 1017.94L868.01 1017.36L869.09 1016.76L870.18 1016.16L871.26 1015.55L872.34 1014.93L873.43 1014.3L874.51 1013.66L875.59 1013.01L876.68 1012.35L877.76 1011.67L878.85 1010.99L879.93 1010.3L881.01 1009.59L882.1 1008.88L883.18 1008.15L884.26 1007.41L885.35 1006.66L886.43 1005.9L887.51 1005.13L888.6 1004.34L889.68 1003.54L890.76 1002.73L891.85 1001.91L892.93 1001.07L894.01 1000.23L895.1 999.37L896.18 998.49L897.26 997.6L898.35 996.7L899.43 995.79L900.51 994.86L901.6 993.91L902.68 992.96L903.76 991.99L904.85 991L905.93 990L907.01 988.98L908.1 987.95L909.18 986.9L910.26 985.84L911.35 984.77L912.43 983.67L913.51 982.56L914.6 981.44L915.68 980.3L916.77 979.14L917.85 977.96L918.93 976.77L920.02 975.56L921.1 974.34L922.18 973.09L923.27 971.83L924.35 970.55L925.43 969.26L926.52 967.94L927.6 966.61L928.68 965.25L929.77 963.88L930.85 962.49L931.93 961.08L933.02 959.65L934.1 958.19L935.18 956.72L936.27 955.23L937.35 953.71L938.43 952.18L939.52 950.62L940.6 949.04L941.68 947.44L942.77 945.82L943.85 944.17L944.93 942.5L946.02 940.81L947.1 939.1L948.18 937.36L949.27 935.59L950.35 933.81L951.43 931.99L952.52 930.15L953.6 928.29L954.68 926.4L955.77 924.49L956.85 922.55L957.94 920.58L959.02 918.58L960.1 916.56L961.19 914.51L962.27 912.43L963.35 910.33L964.44 908.19L965.52 906.03L966.6 903.84L967.69 901.61L968.77 899.36L969.85 897.08L970.94 894.76L972.02 892.42L973.1 890.04L974.19 887.63L975.27 885.19L976.35 882.72L977.44 880.21L978.52 877.67L979.6 875.1L980.69 872.49L981.77 869.85L982.85 867.17L983.94 864.45L985.02 861.7L986.1 858.92L987.19 856.1L988.27 853.24L989.35 850.34L990.44 847.4L991.52 844.43L992.6 841.42L993.69 838.36L994.77 835.27L995.86 832.14L996.94 828.97L998.02 825.75L999.11 822.5L1000.19 819.2L1001.27 815.86L1002.36 812.48L1003.44 809.05L1004.52 805.58L1005.61 802.07L1006.69 798.51L1007.77 794.9L1008.86 791.25L1009.94 787.56L1011.02 783.81L1012.11 780.02L1013.19 776.18L1014.27 772.29L1015.36 768.35L1016.44 764.36L1017.52 760.32L1018.61 756.23L1019.69 752.09L1020.77 747.9L1021.86 743.65L1022.94 739.35L1024.02 735L1025.11 730.59L1026.19 726.12L1027.27 721.6L1028.36 717.03L1029.44 712.4L1030.52 707.7L1031.61 702.95L1032.69 698.15L1033.78 693.28L1034.86 688.35L1035.94 683.36L1037.03 678.31L1038.11 673.19L1039.19 668.01L1040.28 662.77L1041.36 657.46L1042.44 652.09L1043.53 646.65L1044.61 641.15L1045.69 635.58L1046.78 629.94L1047.86 624.23L1048.94 618.45L1050.03 612.6L1051.11 606.67L1052.19 600.68L1053.28 594.61L1054.36 588.47L1055.44 582.26L1056.53 575.97L1057.61 569.6L1058.69 563.15L1059.78 556.63L1060.86 550.03L1061.94 543.35L1063.03 536.59L1064.11 529.75L1065.19 522.82L1066.28 515.81L1067.36 508.72L1068.44 501.54L1069.53 494.28L1070.61 486.93L1071.69 479.49L1072.78 471.96L1073.86 464.34L1074.95 456.64L1076.03 448.84L1077.11 440.94L1078.2 432.96L1079.28 424.88L1080.36 416.7L1081.45 408.43L1082.53 400.05L1083.61 391.58L1084.7 383.01L1085.78 374.34L1086.86 365.57L1087.95 356.69L1089.03 347.71L1090.11 338.63L1091.2 329.44L1092.28 320.14L1093.36 310.73L1094.45 301.21L1095.53 291.58L1096.61 281.84L1097.7 271.98L1098.78 262.01L1099.86 251.92L1100.95 241.72L1102.03 231.4L1103.11 220.96L1104.2 210.4L1105.28 199.71L1106.36 188.91L1107.45 177.97L1108.53 166.92L1109.61 155.73L1110.7 144.42L1111.78 132.97L1112.87 121.4L1113.95 109.69L1115.03 97.85L1116.12 85.87L1117.2 73.76L1118.28 61.51L1119.37 49.12L1120.45 36.58L1121.53 23.91L1122.62 11.09L1123.7 -1.88L1124.78 -14.99L1125.87 -28.25L1126.95 -41.66L1128.03 -55.22L1129.12 -68.94L1130.2 -82.81" stroke="#0072BD"/>
<path d="M156.2 1055.56L157.28 1055.56L158.37 1055.56L159.45 1055.56L160.53 1055.56L161.62 1055.56L162.7 1055.56L163.78 1055.56L164.87 1055.56L165.95 1055.56L167.03 1055.56L168.12 1055.56L169.2 1055.56L170.28 1055.56L171.37 1055.56L172.45 1055.56L173.53 1055.56L174.62 1055.56L175.7 1055.56L176.79 1055.56L177.87 1055.56L178.95 1055.56L180.04 1055.56L181.12 1055.56L182.2 1055.56L183.29 1055.56L184.37 1055.56L185.45 1055.56L186.54 1055.56L187.62 1055.56L188.7 1055.56L189.79 1055.56L190.87 1055.56L191.95 1055.56L193.04 1055.56L194.12 1055.56L195.2 1055.56L196.29 1055.56L197.37 1055.56L198.45 1055.56L199.54 1055.56L200.62 1055.56L201.7 1055.56L202.79 1055.56L203.87 1055.56L204.95 1055.56L206.04 1055.56L207.12 1055.56L208.2 1055.56L209.29 1055.56L210.37 1055.56L211.45 1055.56L212.54 1055.56L213.62 1055.56L214.71 1055.56L215.79 1055.56L216.87 1055.56L217.96 1055.56L219.04 1055.56L220.12 1055.56L221.21 1055.56L222.29 1055.56L223.37 1055.56L224.46 1055.56L225.54 1055.56L226.62 1055.56L227.71 1055.56L228.79 1055.56L229.87 1055.56L230.96 1055.56L232.04 1055.56L233.12 1055.56L234.21 1055.56L235.29 1055.56L236.37 1055.56L237.46 1055.56L238.54 1055.56L239.62 1055.56L240.71 1055.56L241.79 1055.56L242.87 1055.56L243.96 1055.56L245.04 1055.56L246.12 1055.56L247.21 1055.56L248.29 1055.56L249.37 1055.56L250.46 1055.56L251.54 1055.56L252.62 1055.56L253.71 1055.56L254.79 1055.56L255.88 1055.56L256.96 1055.56L258.04 1055.56L259.13 1055.56L260.21 1055.56L261.29 1055.56L262.38 1055.56L263.46 1055.56L264.54 1055.56L265.63 1055.56L266.71 1055.56L267.79 1055.56L268.88 1055.56L269.96 1055.56L271.04 1055.56L272.13 1055.56L273.21 1055.56L274.29 1055.56L275.38 1055.56L276.46 1055.56L277.54 1055.56L278.63 1055.56L279.71 1055.56L280.79 1055.56L281.88 1055.56L282.96 1055.56L284.04 1055.56L285.13 1055.56L286.21 1055.55L287.29 1055.55L288.38 1055.55L289.46 1055.55L290.54 1055.55L291.63 1055.54L292.71 1055.54L293.8 1055.54L294.88 1055.53L295.96 1055.53L297.05 1055.53L298.13 1055.52L299.21 1055.52L300.3 1055.52L301.38 1055.51L302.46 1055.51L303.55 1055.5L304.63 1055.5L305.71 1055.49L306.8 1055.49L307.88 1055.48L308.96 1055.48L310.05 1055.47L311.13 1055.47L312.21 1055.46L313.3 1055.45L314.38 1055.45L315.46 1055.44L316.55 1055.44L317.63 1055.43L318.71 1055.42L319.8 1055.42L320.88 1055.41L321.96 1055.4L323.05 1055.4L324.13 1055.39L325.21 1055.38L326.3 1055.37L327.38 1055.37L328.46 1055.36L329.55 1055.35L330.63 1055.34L331.72 1055.34L332.8 1055.33L333.88 1055.32L334.97 1055.31L336.05 1055.3L337.13 1055.29L338.22 1055.29L339.3 1055.28L340.38 1055.27L341.47 1055.26L342.55 1055.25L343.63 1055.24L344.72 1055.24L345.8 1055.23L346.88 1055.22L347.97 1055.21L349.05 1055.2L350.13 1055.19L351.22 1055.18L352.3 1055.17L353.38 1055.16L354.47 1055.16L355.55 1055.15L356.63 1055.14L357.72 1055.13L358.8 1055.12L359.88 1055.11L360.97 1055.1L362.05 1055.09L363.13 1055.08L364.22 1055.07L365.3 1055.07L366.38 1055.06L367.47 1055.05L368.55 1055.04L369.63 1055.03L370.72 1055.02L371.8 1055.01L372.89 1055L373.97 1055L375.05 1054.99L376.14 1054.98L377.22 1054.97L378.3 1054.96L379.39 1054.96L380.47 1054.95L381.55 1054.94L382.64 1054.93L383.72 1054.92L384.8 1054.92L385.89 1054.91L386.97 1054.9L388.05 1054.89L389.14 1054.89L390.22 1054.88L391.3 1054.87L392.39 1054.87L393.47 1054.86L394.55 1054.85L395.64 1054.85L396.72 1054.84L397.8 1054.84L398.89 1054.83L399.97 1054.83L401.05 1054.82L402.14 1054.82L403.22 1054.81L404.3 1054.81L405.39 1054.8L406.47 1054.8L407.55 1054.79L408.64 1054.79L409.72 1054.78L410.81 1054.78L411.89 1054.77L412.97 1054.77L414.06 1054.76L415.14 1054.76L416.22 1054.76L417.31 1054.75L418.39 1054.75L419.47 1054.74L420.56 1054.74L421.64 1054.74L422.72 1054.73L423.81 1054.73L424.89 1054.72L425.97 1054.72L427.06 1054.72L428.14 1054.71L429.22 1054.71L430.31 1054.7L431.39 1054.7L432.47 1054.7L433.56 1054.69L434.64 1054.69L435.72 1054.69L436.81 1054.68L437.89 1054.68L438.97 1054.68L440.06 1054.67L441.14 1054.67L442.22 1054.67L443.31 1054.66L444.39 1054.66L445.47 1054.66L446.56 1054.65L447.64 1054.65L448.73 1054.65L449.81 1054.64L450.89 1054.64L451.98 1054.64L453.06 1054.63L454.14 1054.63L455.23 1054.63L456.31 1054.62L457.39 1054.62L458.48 1054.62L459.56 1054.61L460.64 1054.61L461.73 1054.61L462.81 1054.6L463.89 1054.6L464.98 1054.6L466.06 1054.59L467.14 1054.59L468.23 1054.58L469.31 1054.58L470.39 1054.58L471.48 1054.57L472.56 1054.57L473.64 1054.57L474.73 1054.56L475.81 1054.56L476.89 1054.56L477.98 1054.55L479.06 1054.55L480.14 1054.54L481.23 1054.54L482.31 1054.54L483.39 1054.53L484.48 1054.53L485.56 1054.52L486.64 1054.52L487.73 1054.51L488.81 1054.51L489.9 1054.51L490.98 1054.5L492.06 1054.5L493.15 1054.49L494.23 1054.49L495.31 1054.48L496.4 1054.48L497.48 1054.47L498.56 1054.47L499.65 1054.46L500.73 1054.46L501.81 1054.45L502.9 1054.45L503.98 1054.44L505.06 1054.44L506.15 1054.43L507.23 1054.43L508.31 1054.42L509.4 1054.41L510.48 1054.41L511.56 1054.4L512.65 1054.4L513.73 1054.39L514.81 1054.38L515.9 1054.38L516.98 1054.37L518.06 1054.36L519.15 1054.36L520.23 1054.35L521.31 1054.34L522.4 1054.33L523.48 1054.33L524.56 1054.32L525.65 1054.31L526.73 1054.3L527.82 1054.29L528.9 1054.28L529.98 1054.27L531.07 1054.26L532.15 1054.25L533.23 1054.23L534.32 1054.22L535.4 1054.21L536.48 1054.2L537.57 1054.18L538.65 1054.17L539.73 1054.15L540.82 1054.14L541.9 1054.12L542.98 1054.11L544.07 1054.09L545.15 1054.07L546.23 1054.06L547.32 1054.04L548.4 1054.02L549.48 1054.01L550.57 1053.99L551.65 1053.97L552.73 1053.95L553.82 1053.93L554.9 1053.91L555.98 1053.89L557.07 1053.87L558.15 1053.85L559.23 1053.83L560.32 1053.81L561.4 1053.79L562.48 1053.76L563.57 1053.74L564.65 1053.72L565.74 1053.7L566.82 1053.67L567.9 1053.65L568.99 1053.63L570.07 1053.6L571.15 1053.58L572.24 1053.55L573.32 1053.53L574.4 1053.5L575.49 1053.48L576.57 1053.45L577.65 1053.43L578.74 1053.4L579.82 1053.37L580.9 1053.35L581.99 1053.32L583.07 1053.3L584.15 1053.27L585.24 1053.24L586.32 1053.21L587.4 1053.19L588.49 1053.16L589.57 1053.13L590.65 1053.1L591.74 1053.08L592.82 1053.05L593.9 1053.02L594.99 1052.99L596.07 1052.96L597.15 1052.94L598.24 1052.91L599.32 1052.88L600.4 1052.85L601.49 1052.82L602.57 1052.8L603.65 1052.77L604.74 1052.74L605.82 1052.71L606.91 1052.68L607.99 1052.66L609.07 1052.63L610.16 1052.6L611.24 1052.57L612.32 1052.55L613.41 1052.52L614.49 1052.49L615.57 1052.47L616.66 1052.44L617.74 1052.41L618.82 1052.39L619.91 1052.36L620.99 1052.33L622.07 1052.31L623.16 1052.28L624.24 1052.26L625.32 1052.24L626.41 1052.21L627.49 1052.19L628.57 1052.16L629.66 1052.14L630.74 1052.12L631.82 1052.1L632.91 1052.08L633.99 1052.06L635.07 1052.04L636.16 1052.02L637.24 1052L638.32 1051.98L639.41 1051.96L640.49 1051.94L641.57 1051.92L642.66 1051.91L643.74 1051.89L644.83 1051.88L645.91 1051.86L646.99 1051.85L648.08 1051.84L649.16 1051.82L650.24 1051.81L651.33 1051.8L652.41 1051.79L653.49 1051.78L654.58 1051.77L655.66 1051.76L656.74 1051.75L657.83 1051.74L658.91 1051.73L659.99 1051.72L661.08 1051.71L662.16 1051.7L663.24 1051.69L664.33 1051.68L665.41 1051.67L666.49 1051.66L667.58 1051.65L668.66 1051.64L669.74 1051.63L670.83 1051.62L671.91 1051.61L672.99 1051.59L674.08 1051.58L675.16 1051.57L676.24 1051.56L677.33 1051.54L678.41 1051.53L679.49 1051.51L680.58 1051.5L681.66 1051.48L682.75 1051.47L683.83 1051.45L684.91 1051.43L686 1051.41L687.08 1051.39L688.16 1051.36L689.25 1051.34L690.33 1051.31L691.41 1051.28L692.5 1051.24L693.58 1051.2L694.66 1051.17L695.75 1051.13L696.83 1051.08L697.91 1051.04L699 1050.99L700.08 1050.94L701.16 1050.89L702.25 1050.83L703.33 1050.77L704.41 1050.72L705.5 1050.65L706.58 1050.59L707.66 1050.52L708.75 1050.46L709.83 1050.39L710.91 1050.31L712 1050.24L713.08 1050.16L714.16 1050.08L715.25 1050L716.33 1049.92L717.41 1049.83L718.5 1049.74L719.58 1049.65L720.66 1049.56L721.75 1049.46L722.83 1049.37L723.92 1049.27L725 1049.17L726.08 1049.06L727.17 1048.96L728.25 1048.85L729.33 1048.74L730.42 1048.63L731.5 1048.52L732.58 1048.4L733.67 1048.28L734.75 1048.16L735.83 1048.04L736.92 1047.92L738 1047.8L739.08 1047.67L740.17 1047.54L741.25 1047.41L742.33 1047.28L743.42 1047.15L744.5 1047.01L745.58 1046.88L746.67 1046.74L747.75 1046.61L748.83 1046.47L749.92 1046.33L751 1046.19L752.08 1046.04L753.17 1045.9L754.25 1045.76L755.33 1045.62L756.42 1045.47L757.5 1045.33L758.58 1045.18L759.67 1045.04L760.75 1044.89L761.84 1044.75L762.92 1044.6L764 1044.46L765.09 1044.32L766.17 1044.17L767.25 1044.03L768.34 1043.88L769.42 1043.73L770.5 1043.58L771.59 1043.43L772.67 1043.27L773.75 1043.12L774.84 1042.96L775.92 1042.8L777 1042.63L778.09 1042.47L779.17 1042.3L780.25 1042.13L781.34 1041.96L782.42 1041.79L783.5 1041.61L784.59 1041.43L785.67 1041.25L786.75 1041.07L787.84 1040.88L788.92 1040.7L790 1040.51L791.09 1040.32L792.17 1040.12L793.25 1039.92L794.34 1039.73L795.42 1039.52L796.5 1039.32L797.59 1039.11L798.67 1038.9L799.76 1038.69L800.84 1038.48L801.92 1038.26L803.01 1038.04L804.09 1037.82L805.17 1037.59L806.26 1037.36L807.34 1037.13L808.42 1036.9L809.51 1036.66L810.59 1036.42L811.67 1036.18L812.76 1035.94L813.84 1035.69L814.92 1035.44L816.01 1035.19L817.09 1034.93L818.17 1034.68L819.26 1034.42L820.34 1034.15L821.42 1033.89L822.51 1033.62L823.59 1033.34L824.67 1033.06L825.76 1032.78L826.84 1032.49L827.92 1032.19L829.01 1031.88L830.09 1031.57L831.17 1031.25L832.26 1030.92L833.34 1030.58L834.42 1030.24L835.51 1029.88L836.59 1029.51L837.67 1029.14L838.76 1028.75L839.84 1028.36L840.93 1027.95L842.01 1027.54L843.09 1027.11L844.18 1026.68L845.26 1026.24L846.34 1025.78L847.43 1025.33L848.51 1024.86L849.59 1024.39L850.68 1023.91L851.76 1023.42L852.84 1022.92L853.93 1022.42L855.01 1021.91L856.09 1021.4L857.18 1020.88L858.26 1020.36L859.34 1019.82L860.43 1019.29L861.51 1018.74L862.59 1018.19L863.68 1017.63L864.76 1017.07L865.84 1016.49L866.93 1015.9L868.01 1015.31L869.09 1014.71L870.18 1014.09L871.26 1013.47L872.34 1012.84L873.43 1012.19L874.51 1011.54L875.59 1010.88L876.68 1010.2L877.76 1009.52L878.85 1008.82L879.93 1008.12L881.01 1007.4L882.1 1006.67L883.18 1005.94L884.26 1005.18L885.35 1004.42L886.43 1003.65L887.51 1002.86L888.6 1002.07L889.68 1001.26L890.76 1000.44L891.85 999.6L892.93 998.75L894.01 997.89L895.1 997.02L896.18 996.14L897.26 995.24L898.35 994.32L899.43 993.4L900.51 992.46L901.6 991.5L902.68 990.54L903.76 989.55L904.85 988.56L905.93 987.55L907.01 986.52L908.1 985.48L909.18 984.42L910.26 983.35L911.35 982.26L912.43 981.16L913.51 980.04L914.6 978.91L915.68 977.76L916.77 976.59L917.85 975.41L918.93 974.2L920.02 972.99L921.1 971.75L922.18 970.5L923.27 969.23L924.35 967.94L925.43 966.64L926.52 965.31L927.6 963.97L928.68 962.61L929.77 961.23L930.85 959.83L931.93 958.41L933.02 956.97L934.1 955.51L935.18 954.03L936.27 952.53L937.35 951.01L938.43 949.46L939.52 947.9L940.6 946.31L941.68 944.71L942.77 943.08L943.85 941.42L944.93 939.75L946.02 938.05L947.1 936.33L948.18 934.58L949.27 932.81L950.35 931.01L951.43 929.2L952.52 927.35L953.6 925.48L954.68 923.59L955.77 921.67L956.85 919.72L957.94 917.75L959.02 915.74L960.1 913.72L961.19 911.66L962.27 909.58L963.35 907.47L964.44 905.32L965.52 903.16L966.6 900.96L967.69 898.73L968.77 896.47L969.85 894.18L970.94 891.86L972.02 889.51L973.1 887.13L974.19 884.71L975.27 882.26L976.35 879.78L977.44 877.27L978.52 874.73L979.6 872.14L980.69 869.53L981.77 866.88L982.85 864.2L983.94 861.48L985.02 858.72L986.1 855.93L987.19 853.1L988.27 850.23L989.35 847.33L990.44 844.38L991.52 841.4L992.6 838.38L993.69 835.32L994.77 832.22L995.86 829.08L996.94 825.9L998.02 822.67L999.11 819.41L1000.19 816.1L1001.27 812.75L1002.36 809.36L1003.44 805.92L1004.52 802.44L1005.61 798.91L1006.69 795.34L1007.77 791.72L1008.86 788.06L1009.94 784.35L1011.02 780.59L1012.11 776.78L1013.19 772.92L1014.27 769.02L1015.36 765.07L1016.44 761.06L1017.52 757L1018.61 752.9L1019.69 748.74L1020.77 744.53L1021.86 740.26L1022.94 735.94L1024.02 731.57L1025.11 727.14L1026.19 722.66L1027.27 718.11L1028.36 713.52L1029.44 708.86L1030.52 704.15L1031.61 699.38L1032.69 694.55L1033.78 689.65L1034.86 684.7L1035.94 679.69L1037.03 674.61L1038.11 669.47L1039.19 664.27L1040.28 659.01L1041.36 653.67L1042.44 648.28L1043.53 642.81L1044.61 637.28L1045.69 631.69L1046.78 626.02L1047.86 620.29L1048.94 614.48L1050.03 608.6L1051.11 602.66L1052.19 596.64L1053.28 590.55L1054.36 584.38L1055.44 578.14L1056.53 571.82L1057.61 565.43L1058.69 558.96L1059.78 552.42L1060.86 545.79L1061.94 539.09L1063.03 532.3L1064.11 525.44L1065.19 518.49L1066.28 511.46L1067.36 504.35L1068.44 497.16L1069.53 489.87L1070.61 482.51L1071.69 475.05L1072.78 467.51L1073.86 459.88L1074.95 452.16L1076.03 444.35L1077.11 436.45L1078.2 428.45L1079.28 420.37L1080.36 412.18L1081.45 403.91L1082.53 395.54L1083.61 387.07L1084.7 378.5L1085.78 369.84L1086.86 361.07L1087.95 352.21L1089.03 343.24L1090.11 334.17L1091.2 325L1092.28 315.72L1093.36 306.34L1094.45 296.85L1095.53 287.25L1096.61 277.55L1097.7 267.73L1098.78 257.81L1099.86 247.77L1100.95 237.62L1102.03 227.35L1103.11 216.98L1104.2 206.48L1105.28 195.87L1106.36 185.14L1107.45 174.29L1108.53 163.32L1109.61 152.23L1110.7 141.02L1111.78 129.69L1112.87 118.23L1113.95 106.64L1115.03 94.93L1116.12 83.09L1117.2 71.12L1118.28 59.02L1119.37 46.79L1120.45 34.43L1121.53 21.93L1122.62 9.3L1123.7 -3.47L1124.78 -16.37L1125.87 -29.41L1126.95 -42.6L1128.03 -55.92L1129.12 -69.38L1130.2 -82.99" stroke="#D95319"/>
</g>
<g font-family="'Liberation Sans', sans-serif" font-size="37.8" letter-spacing="2.4" fill="#262626">
<text transform="translate(156.05,1109.6) scale(0.875,1)" text-anchor="middle">0</text>
<text transform="translate(278.05,1109.6) scale(0.875,1)" text-anchor="middle">1</text>
<text transform="translate(400.05,1109.6) scale(0.875,1)" text-anchor="middle">2</text>
<text transform="translate(521.05,1109.6) scale(0.875,1)" text-anchor="middle">3</text>
<text transform="translate(643.05,1109.6) scale(0.875,1)" text-anchor="middle">4</text>
<text transform="translate(765.05,1109.6) scale(0.875,1)" text-anchor="middle">5</text>
<text transform="translate(887.05,1109.6) scale(0.875,1)" text-anchor="middle">6</text>
<text transform="translate(1008.05,1109.6) scale(0.875,1)" text-anchor="middle">7</text>
<text transform="translate(1130.05,1109.6) scale(0.875,1)" text-anchor="middle">8</text>
<text transform="translate(141.5,1072.8) scale(0.875,1)" text-anchor="end">0</text>
<text transform="translate(142.1,950.8) scale(0.875,1)" text-anchor="end">50</text>
<text transform="translate(140.1,828.8) scale(0.875,1)" text-anchor="end">100</text>
<text transform="translate(140.1,706.8) scale(0.875,1)" text-anchor="end">150</text>
<text transform="translate(140.1,584.8) scale(0.875,1)" text-anchor="end">200</text>
<text transform="translate(140.1,462.8) scale(0.875,1)" text-anchor="end">250</text>
<text transform="translate(140.1,340.8) scale(0.875,1)" text-anchor="end">300</text>
<text transform="translate(140.1,218.8) scale(0.875,1)" text-anchor="end">350</text>
<text transform="translate(140.1,96.8) scale(0.875,1)" text-anchor="end">400</text>
</g>
</g>
<g id="panel-b">
<path d="M1558 82V1046M1680 82V1046M1802 82V1046M1923 82V1046M2045 82V1046M2167 82V1046M2289 82V1046M2411 82V1046M1448 880H2412M1448 703H2412M1448 526H2412M1448 348H2412M1448 171H2412" stroke="#dbdbdb" stroke-width="2" fill="none"/>
<path d="M1461 1057.6V82M1485 1057.6V82M1509 1057.6V82M1534 1057.6V82M1582 1057.6V82M1607 1057.6V82M1631 1057.6V82M1655 1057.6V82M1704 1057.6V82M1729 1057.6V82M1753 1057.6V82M1777 1057.6V82M1826 1057.6V82M1850 1057.6V82M1875 1057.6V82M1899 1057.6V82M1948 1057.6V82M1972 1057.6V82M1997 1057.6V82M2021 1057.6V82M2070 1057.6V82M2094 1057.6V82M2118 1057.6V82M2143 1057.6V82M2191 1057.6V82M2216 1057.6V82M2240 1057.6V82M2265 1057.6V82M2313 1057.6V82M2338 1057.6V82M2362 1057.6V82M2386 1057.6V82" stroke="#c2c2c2" stroke-width="2" stroke-dasharray="3.6 7.226" fill="none"/>
<path d="M1444.1 1022H2412M1444.1 987H2412M1444.1 951H2412M1444.1 916H2412M1444.1 845H2412M1444.1 809H2412M1444.1 774H2412M1444.1 738H2412M1444.1 668H2412M1444.1 632H2412M1444.1 597H2412M1444.1 561H2412M1444.1 490H2412M1444.1 455H2412M1444.1 419H2412M1444.1 384H2412M1444.1 313H2412M1444.1 277H2412M1444.1 242H2412M1444.1 207H2412M1444.1 136H2412M1444.1 100H2412" stroke="#c2c2c2" stroke-width="2" stroke-dasharray="3.8 7.0" fill="none"/>
<path d="M1436 81V1059M1435 1058H2412M1558 1058v-11M1680 1058v-11M1802 1058v-11M1923 1058v-11M2045 1058v-11M2167 1058v-11M2289 1058v-11M2411 1058v-11M1436 880h11M1436 703h11M1436 526h11M1436 348h11M1436 171h11" stroke="#121212" stroke-width="2" fill="none"/>
<path d="M1438.27 118.54L1440.22 120.52L1442.17 122.44L1444.12 124.36L1446.07 126.35L1448.01 128.44L1449.96 130.72L1451.91 133.22L1453.86 136.01L1455.81 139.09L1457.76 142.35L1459.71 145.68L1461.66 148.98L1463.6 152.18L1465.55 155.27L1467.5 158.26L1469.45 161.14L1471.4 163.91L1473.35 166.58L1475.3 169.14L1477.25 171.58L1479.19 173.92L1481.14 176.14L1483.09 178.26L1485.04 180.26L1486.99 182.15L1488.94 183.92L1490.89 185.6L1492.84 187.17L1494.78 188.64L1496.73 190.03L1498.68 191.32L1500.63 192.53L1502.58 193.66L1504.53 194.71L1506.48 195.69L1508.43 196.6L1510.37 197.45L1512.32 198.24L1514.27 198.97L1516.22 199.65L1518.17 200.27L1520.12 200.85L1522.07 201.38L1524.02 201.86L1525.96 202.31L1527.91 202.72L1529.86 203.09L1531.81 203.43L1533.76 203.74L1535.71 204.02L1537.66 204.29L1539.61 204.54L1541.55 204.77L1543.5 205.01L1545.45 205.24L1547.4 205.47L1549.35 205.72L1551.3 205.99L1553.25 206.27L1555.2 206.58L1557.14 206.93L1559.09 207.31L1561.04 207.73L1562.99 208.19L1564.94 208.7L1566.89 209.25L1568.84 209.85L1570.79 210.49L1572.73 211.19L1574.68 211.94L1576.63 212.74L1578.58 213.6L1580.53 214.51L1582.48 215.48L1584.43 216.51L1586.38 217.59L1588.33 218.74L1590.27 219.94L1592.22 221.19L1594.17 222.49L1596.12 223.85L1598.07 225.26L1600.02 226.72L1601.97 228.22L1603.92 229.77L1605.86 231.36L1607.81 233L1609.76 234.68L1611.71 236.4L1613.66 238.17L1615.61 239.97L1617.56 241.81L1619.51 243.7L1621.45 245.62L1623.4 247.58L1625.35 249.57L1627.3 251.61L1629.25 253.67L1631.2 255.78L1633.15 257.92L1635.1 260.09L1637.04 262.31L1638.99 264.57L1640.94 266.88L1642.89 269.23L1644.84 271.64L1646.79 274.1L1648.74 276.62L1650.69 279.21L1652.63 281.85L1654.58 284.57L1656.53 287.35L1658.48 290.19L1660.43 293.09L1662.38 296.03L1664.33 298.99L1666.28 301.97L1668.22 304.94L1670.17 307.91L1672.12 310.85L1674.07 313.75L1676.02 316.6L1677.97 319.39L1679.92 322.11L1681.87 324.74L1683.81 327.28L1685.76 329.75L1687.71 332.15L1689.66 334.48L1691.61 336.74L1693.56 338.95L1695.51 341.1L1697.46 343.21L1699.4 345.27L1701.35 347.29L1703.3 349.28L1705.25 351.24L1707.2 353.17L1709.15 355.07L1711.1 356.93L1713.05 358.76L1714.99 360.55L1716.94 362.31L1718.89 364.02L1720.84 365.69L1722.79 367.31L1724.74 368.88L1726.69 370.4L1728.64 371.87L1730.58 373.28L1732.53 374.64L1734.48 375.94L1736.43 377.2L1738.38 378.4L1740.33 379.55L1742.28 380.65L1744.23 381.7L1746.17 382.7L1748.12 383.66L1750.07 384.57L1752.02 385.43L1753.97 386.25L1755.92 387.03L1757.87 387.76L1759.82 388.46L1761.76 389.13L1763.71 389.76L1765.66 390.36L1767.61 390.93L1769.56 391.47L1771.51 392L1773.46 392.5L1775.41 392.98L1777.35 393.45L1779.3 393.91L1781.25 394.35L1783.2 394.77L1785.15 395.18L1787.1 395.57L1789.05 395.94L1791 396.3L1792.94 396.63L1794.89 396.95L1796.84 397.24L1798.79 397.51L1800.74 397.76L1802.69 397.98L1804.64 398.19L1806.59 398.37L1808.53 398.53L1810.48 398.68L1812.43 398.81L1814.38 398.94L1816.33 399.06L1818.28 399.17L1820.23 399.29L1822.18 399.4L1824.12 399.52L1826.07 399.64L1828.02 399.78L1829.97 399.92L1831.92 400.08L1833.87 400.25L1835.82 400.45L1837.77 400.66L1839.71 400.89L1841.66 401.15L1843.61 401.43L1845.56 401.75L1847.51 402.09L1849.46 402.47L1851.41 402.88L1853.36 403.33L1855.3 403.82L1857.25 404.36L1859.2 404.96L1861.15 405.6L1863.1 406.31L1865.05 407.08L1867 407.92L1868.95 408.83L1870.89 409.82L1872.84 410.88L1874.79 412.01L1876.74 413.21L1878.69 414.47L1880.64 415.8L1882.59 417.19L1884.54 418.63L1886.48 420.13L1888.43 421.68L1890.38 423.28L1892.33 424.93L1894.28 426.63L1896.23 428.38L1898.18 430.17L1900.13 432.01L1902.07 433.89L1904.02 435.83L1905.97 437.83L1907.92 439.9L1909.87 442.05L1911.82 444.28L1913.77 446.6L1915.72 449.02L1917.66 451.55L1919.61 454.19L1921.56 456.95L1923.51 459.82L1925.46 462.81L1927.41 465.9L1929.36 469.1L1931.31 472.39L1933.25 475.77L1935.2 479.24L1937.15 482.8L1939.1 486.42L1941.05 490.12L1943 493.88L1944.95 497.71L1946.9 501.61L1948.84 505.57L1950.79 509.59L1952.74 513.69L1954.69 517.85L1956.64 522.07L1958.59 526.37L1960.54 530.73L1962.49 535.17L1964.43 539.69L1966.38 544.31L1968.33 549.03L1970.28 553.85L1972.23 558.79L1974.18 563.85L1976.13 569.02L1978.08 574.29L1980.02 579.61L1981.97 584.99L1983.92 590.38L1985.87 595.76L1987.82 601.12L1989.77 606.44L1991.72 611.73L1993.67 616.98L1995.61 622.2L1997.56 627.39L1999.51 632.54L2001.46 637.66L2003.41 642.77L2005.36 647.9L2007.31 653.07L2009.26 658.3L2011.21 663.62L2013.15 669.05L2015.1 674.6L2017.05 680.25L2019 685.99L2020.95 691.79L2022.9 697.64L2024.85 703.51L2026.8 709.39L2028.74 715.26L2030.69 721.09L2032.64 726.88L2034.59 732.6L2036.54 738.24L2038.49 743.79L2040.44 749.23L2042.39 754.58L2044.33 759.82L2046.28 764.97L2048.23 770.01L2050.18 774.95L2052.13 779.8L2054.08 784.56L2056.03 789.23L2057.98 793.83L2059.92 798.37L2061.87 802.85L2063.82 807.28L2065.77 811.67L2067.72 816.02L2069.67 820.35L2071.62 824.65L2073.57 828.93L2075.51 833.2L2077.46 837.47L2079.41 841.73L2081.36 846L2083.31 850.27L2085.26 854.53L2087.21 858.78L2089.16 862.98L2091.1 867.14L2093.05 871.23L2095 875.25L2096.95 879.17L2098.9 882.99L2100.85 886.71L2102.8 890.33L2104.75 893.86L2106.69 897.3L2108.64 900.65L2110.59 903.93L2112.54 907.13L2114.49 910.26L2116.44 913.33L2118.39 916.35L2120.34 919.31L2122.28 922.22L2124.23 925.08L2126.18 927.9L2128.13 930.68L2130.08 933.41L2132.03 936.11L2133.98 938.77L2135.93 941.4L2137.87 944L2139.82 946.57L2141.77 949.11L2143.72 951.64L2145.67 954.13L2147.62 956.6L2149.57 959.05L2151.52 961.45L2153.46 963.82L2155.41 966.15L2157.36 968.44L2159.31 970.68L2161.26 972.86L2163.21 975L2165.16 977.07L2167.11 979.09L2169.05 981.04L2171 982.93L2172.95 984.76L2174.9 986.55L2176.85 988.28L2178.8 989.96L2180.75 991.6L2182.7 993.2L2184.64 994.76L2186.59 996.29L2188.54 997.79L2190.49 999.27L2192.44 1000.72L2194.39 1002.15L2196.34 1003.56L2198.29 1004.94L2200.23 1006.29L2202.18 1007.62L2204.13 1008.92L2206.08 1010.18L2208.03 1011.41L2209.98 1012.6L2211.93 1013.76L2213.88 1014.87L2215.82 1015.95L2217.77 1016.98L2219.72 1017.98L2221.67 1018.93L2223.62 1019.86L2225.57 1020.75L2227.52 1021.61L2229.47 1022.45L2231.41 1023.27L2233.36 1024.07L2235.31 1024.85L2237.26 1025.62L2239.21 1026.38L2241.16 1027.13L2243.11 1027.88L2245.06 1028.62L2247 1029.34L2248.95 1030.06L2250.9 1030.77L2252.85 1031.46L2254.8 1032.14L2256.75 1032.8L2258.7 1033.45L2260.65 1034.07L2262.59 1034.68L2264.54 1035.27L2266.49 1035.83L2268.44 1036.37L2270.39 1036.9L2272.34 1037.4L2274.29 1037.89L2276.24 1038.36L2278.18 1038.82L2280.13 1039.26L2282.08 1039.69L2284.03 1040.11L2285.98 1040.52L2287.93 1040.92L2289.88 1041.31L2291.83 1041.7L2293.77 1042.07L2295.72 1042.45L2297.67 1042.81L2299.62 1043.16L2301.57 1043.51L2303.52 1043.84L2305.47 1044.17L2307.42 1044.48L2309.36 1044.79L2311.31 1045.08L2313.26 1045.37L2315.21 1045.64L2317.16 1045.9L2319.11 1046.15L2321.06 1046.39L2323.01 1046.63L2324.95 1046.85L2326.9 1047.07L2328.85 1047.29L2330.8 1047.5L2332.75 1047.7L2334.7 1047.91L2336.65 1048.1L2338.6 1048.3L2340.54 1048.5L2342.49 1048.69L2344.44 1048.89L2346.39 1049.08L2348.34 1049.27L2350.29 1049.46L2352.24 1049.64L2354.19 1049.82L2356.13 1050L2358.08 1050.17L2360.03 1050.34L2361.98 1050.51L2363.93 1050.67L2365.88 1050.83L2367.83 1050.98L2369.78 1051.13L2371.72 1051.28L2373.67 1051.42L2375.62 1051.56L2377.57 1051.7L2379.52 1051.83L2381.47 1051.96L2383.42 1052.09L2385.37 1052.22L2387.31 1052.34L2389.26 1052.46L2391.21 1052.58L2393.16 1052.7L2395.11 1052.82L2397.06 1052.93L2399.01 1053.04L2400.96 1053.15L2402.9 1053.27L2404.85 1053.37L2406.8 1053.48L2408.75 1053.59L2410.7 1053.7" stroke="#000" stroke-width="6.6" fill="none" stroke-linejoin="round" stroke-linecap="butt"/>
<g font-family="'Liberation Sans', sans-serif" font-size="37.8" letter-spacing="2.4" fill="#262626">
<text transform="translate(1436.05,1109.6) scale(0.875,1)" text-anchor="middle">0</text>
<text transform="translate(1558.05,1109.6) scale(0.875,1)" text-anchor="middle">1</text>
<text transform="translate(1680.05,1109.6) scale(0.875,1)" text-anchor="middle">2</text>
<text transform="translate(1802.05,1109.6) scale(0.875,1)" text-anchor="middle">3</text>
<text transform="translate(1923.05,1109.6) scale(0.875,1)" text-anchor="middle">4</text>
<text transform="translate(2045.05,1109.6) scale(0.875,1)" text-anchor="middle">5</text>
<text transform="translate(2167.05,1109.6) scale(0.875,1)" text-anchor="middle">6</text>
<text transform="translate(2289.05,1109.6) scale(0.875,1)" text-anchor="middle">7</text>
<text transform="translate(2411.05,1109.6) scale(0.875,1)" text-anchor="middle">8</text>
<text transform="translate(1421.6,1072.8) scale(0.875,1)" text-anchor="end">0</text>
<text transform="translate(1421.3,894.8) scale(0.875,1)" text-anchor="end">0.1</text>
<text transform="translate(1421.3,717.8) scale(0.875,1)" text-anchor="end">0.2</text>
<text transform="translate(1421.3,540.8) scale(0.875,1)" text-anchor="end">0.3</text>
<text transform="translate(1421.3,362.8) scale(0.875,1)" text-anchor="end">0.4</text>
<text transform="translate(1421.3,185.8) scale(0.875,1)" text-anchor="end">0.5</text>
</g>
</g>

<g font-family="'Liberation Sans', sans-serif" font-weight="bold" font-size="51" fill="#000" text-anchor="middle">
<text x="643" y="59">(a)</text>
<text x="1923.3" y="59">(b)</text>
</g>
<g font-family="'Liberation Serif', serif" font-size="43" fill="#262626">
<text x="553.8" y="1158" textLength="181" lengthAdjust="spacingAndGlyphs"><tspan font-size="52" dy="1.6">−</tspan><tspan dy="-1.6"> log</tspan><tspan font-size="30" dy="9.5">10</tspan><tspan dy="-9.5" font-size="47.5">(</tspan><tspan font-style="italic">p</tspan><tspan font-size="47.5">)</tspan></text>
<text x="1833.8" y="1158" textLength="181" lengthAdjust="spacingAndGlyphs"><tspan font-size="52" dy="1.6">−</tspan><tspan dy="-1.6"> log</tspan><tspan font-size="30" dy="9.5">10</tspan><tspan dy="-9.5" font-size="47.5">(</tspan><tspan font-style="italic">p</tspan><tspan font-size="47.5">)</tspan></text>
<text transform="translate(52.8,626.8) rotate(-90)" textLength="112" lengthAdjust="spacingAndGlyphs">BF<tspan font-size="47.5">(</tspan><tspan font-size="43" font-style="italic">p</tspan><tspan font-size="47.5">)</tspan></text>
<text transform="translate(1344,623.6) rotate(-90)" textLength="106" lengthAdjust="spacingAndGlyphs">fdr<tspan font-size="47.5">(</tspan><tspan font-size="43" font-style="italic">p</tspan><tspan font-size="47.5">)</tspan></text>
</g>
<g id="legend">
<rect x="186" y="112" width="203.2" height="411.5" fill="#fff" stroke="#1a1a1a" stroke-width="2"/>
<rect x="196" y="123" width="107" height="33" fill="#333" fill-opacity="0.6" stroke="none"/>
<rect x="196" y="123" width="107" height="33" fill="none" stroke="#000" stroke-width="2"/>
<g stroke-width="6" fill="none">
<path d="M196 184.00H304" stroke="#D95319"/>
<path d="M196 228.69H304" stroke="#EDB120"/>
<path d="M196 273.38H304" stroke="#7E2F8E"/>
<path d="M196 318.07H304" stroke="#77AC30"/>
<path d="M196 362.76H304" stroke="#4DBEEE"/>
<path d="M196 407.45H304" stroke="#A2142F"/>
<path d="M196 452.14H304" stroke="#0072BD"/>
<path d="M196 496.83H304" stroke="#D95319"/>
</g>
<g font-family="'Liberation Serif', serif" font-size="36.5" fill="#000">
<text x="312.4" y="147.9" textLength="65" lengthAdjust="spacingAndGlyphs"><tspan font-style="italic">v</tspan><tspan font-size="40.5">(</tspan><tspan font-size="36.5" font-style="italic">p</tspan><tspan font-size="40.5">)</tspan></text>
<text y="193.40"><tspan x="312.2" textLength="20.6" lengthAdjust="spacingAndGlyphs">n</tspan><tspan x="332.6" textLength="27.6" lengthAdjust="spacingAndGlyphs">=</tspan><tspan x="359.6">1</tspan></text>
<text y="238.09"><tspan x="312.2" textLength="20.6" lengthAdjust="spacingAndGlyphs">n</tspan><tspan x="332.6" textLength="27.6" lengthAdjust="spacingAndGlyphs">=</tspan><tspan x="359.6">2</tspan></text>
<text y="282.78"><tspan x="312.2" textLength="20.6" lengthAdjust="spacingAndGlyphs">n</tspan><tspan x="332.6" textLength="27.6" lengthAdjust="spacingAndGlyphs">=</tspan><tspan x="359.6">3</tspan></text>
<text y="327.47"><tspan x="312.2" textLength="20.6" lengthAdjust="spacingAndGlyphs">n</tspan><tspan x="332.6" textLength="27.6" lengthAdjust="spacingAndGlyphs">=</tspan><tspan x="359.6">4</tspan></text>
<text y="372.16"><tspan x="312.2" textLength="20.6" lengthAdjust="spacingAndGlyphs">n</tspan><tspan x="332.6" textLength="27.6" lengthAdjust="spacingAndGlyphs">=</tspan><tspan x="359.6">5</tspan></text>
<text y="416.85"><tspan x="312.2" textLength="20.6" lengthAdjust="spacingAndGlyphs">n</tspan><tspan x="332.6" textLength="27.6" lengthAdjust="spacingAndGlyphs">=</tspan><tspan x="359.6">6</tspan></text>
<text y="461.54"><tspan x="312.2" textLength="20.6" lengthAdjust="spacingAndGlyphs">n</tspan><tspan x="332.6" textLength="27.6" lengthAdjust="spacingAndGlyphs">=</tspan><tspan x="359.6">7</tspan></text>
<text y="506.23"><tspan x="312.2" textLength="20.6" lengthAdjust="spacingAndGlyphs">n</tspan><tspan x="332.6" textLength="27.6" lengthAdjust="spacingAndGlyphs">=</tspan><tspan x="359.6">8</tspan></text>
</g>
</g>

</svg>
</body>
</html>
